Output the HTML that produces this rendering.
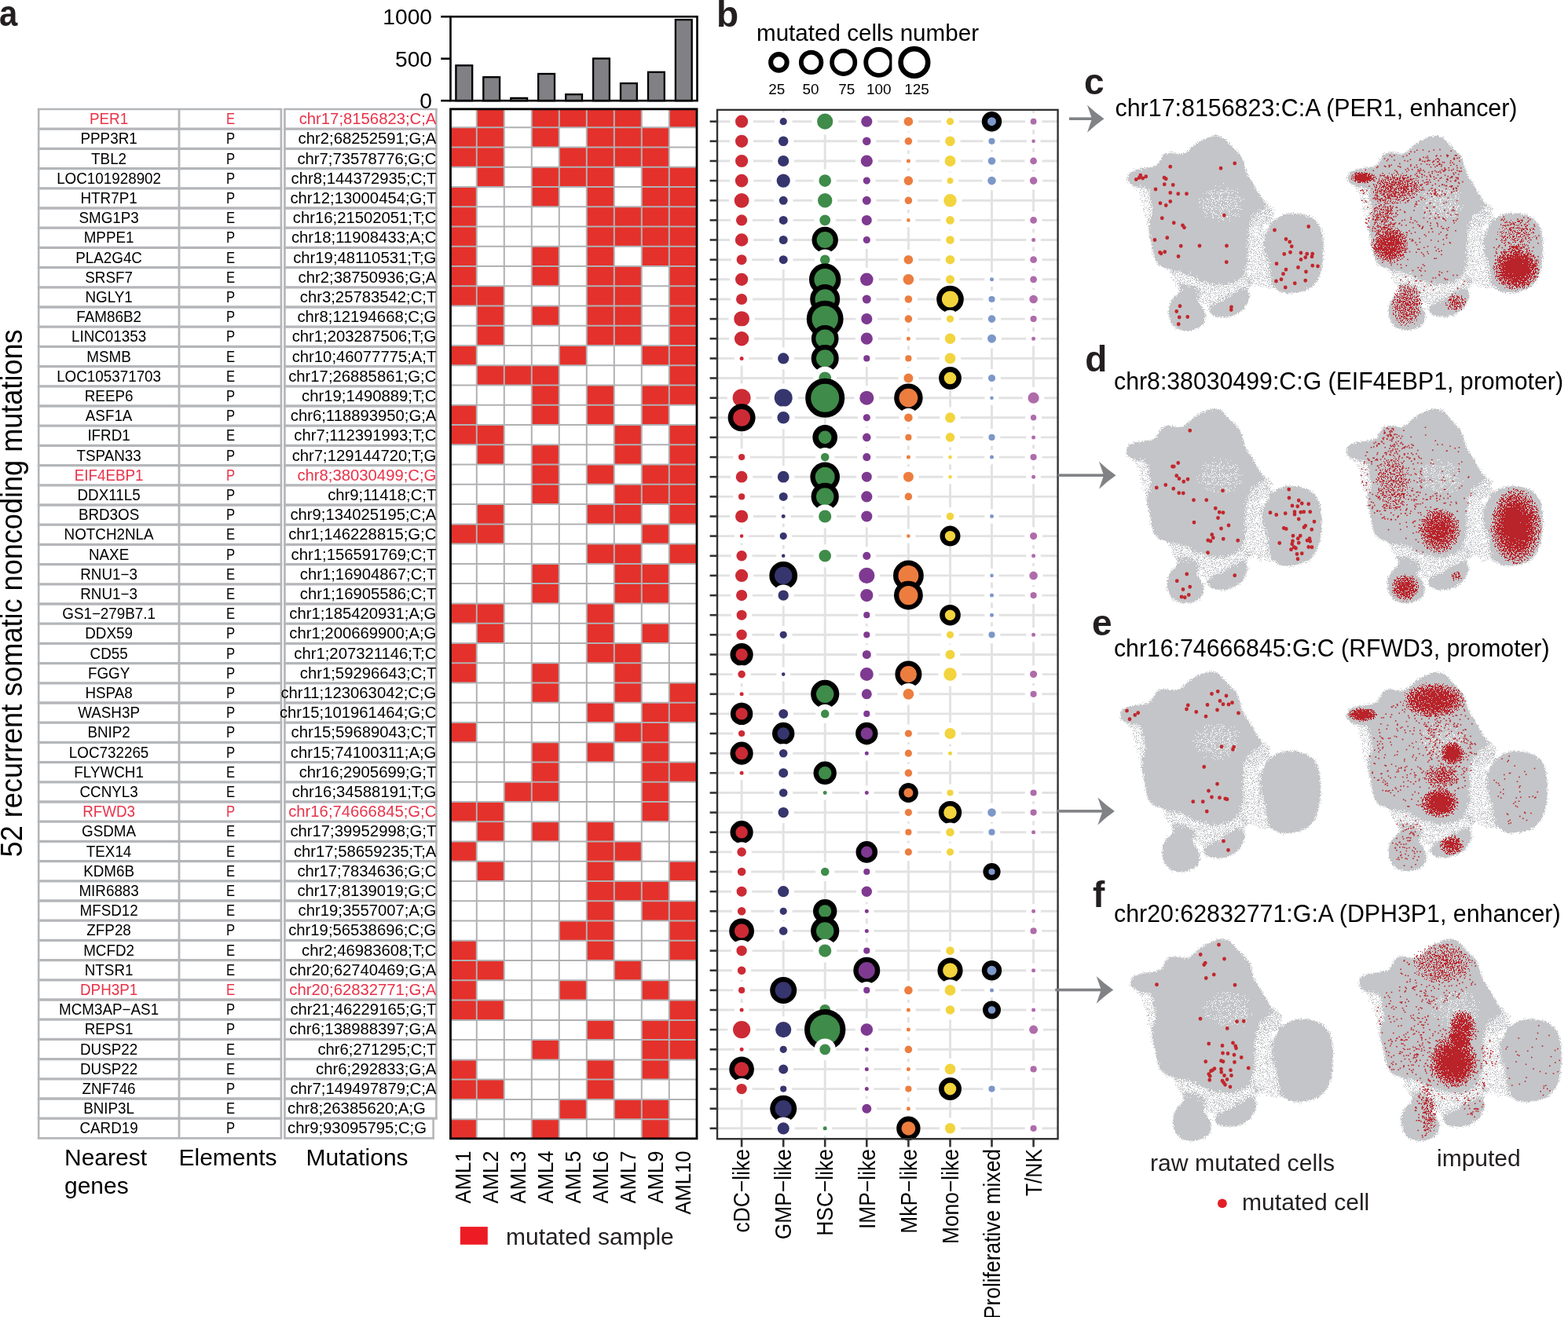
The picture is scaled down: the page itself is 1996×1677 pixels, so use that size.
<!DOCTYPE html>
<html><head><meta charset="utf-8"><title>Figure</title>
<style>html,body{margin:0;padding:0;background:#fff;}svg{display:block;}</style></head>
<body><svg width="1996" height="1677" viewBox="0 0 1996 1677" font-family="'Liberation Sans', Arial, Helvetica, sans-serif">
<rect width="1996" height="1677" fill="#fff"/>
<g stroke="#B4B6B9" fill="none">
<line x1="47.8" y1="139.0" x2="359.2" y2="139.0" stroke-width="2.7"/>
<line x1="361.1" y1="139.0" x2="556.8" y2="139.0" stroke-width="2.7"/>
<line x1="47.8" y1="164.2" x2="359.2" y2="164.2" stroke-width="3.3"/>
<line x1="361.1" y1="164.2" x2="556.8" y2="164.2" stroke-width="3.3"/>
<line x1="47.8" y1="189.4" x2="359.2" y2="189.4" stroke-width="3.3"/>
<line x1="361.1" y1="189.4" x2="556.8" y2="189.4" stroke-width="3.3"/>
<line x1="47.8" y1="214.6" x2="359.2" y2="214.6" stroke-width="3.3"/>
<line x1="361.1" y1="214.6" x2="556.8" y2="214.6" stroke-width="3.3"/>
<line x1="47.8" y1="239.8" x2="359.2" y2="239.8" stroke-width="3.3"/>
<line x1="361.1" y1="239.8" x2="556.8" y2="239.8" stroke-width="3.3"/>
<line x1="47.8" y1="265.0" x2="359.2" y2="265.0" stroke-width="3.3"/>
<line x1="361.1" y1="265.0" x2="556.8" y2="265.0" stroke-width="3.3"/>
<line x1="47.8" y1="290.2" x2="359.2" y2="290.2" stroke-width="3.3"/>
<line x1="361.1" y1="290.2" x2="556.8" y2="290.2" stroke-width="3.3"/>
<line x1="47.8" y1="315.4" x2="359.2" y2="315.4" stroke-width="3.3"/>
<line x1="361.1" y1="315.4" x2="556.8" y2="315.4" stroke-width="3.3"/>
<line x1="47.8" y1="340.6" x2="359.2" y2="340.6" stroke-width="3.3"/>
<line x1="361.1" y1="340.6" x2="556.8" y2="340.6" stroke-width="3.3"/>
<line x1="47.8" y1="365.8" x2="359.2" y2="365.8" stroke-width="3.3"/>
<line x1="361.1" y1="365.8" x2="556.8" y2="365.8" stroke-width="3.3"/>
<line x1="47.8" y1="391.0" x2="359.2" y2="391.0" stroke-width="3.3"/>
<line x1="361.1" y1="391.0" x2="556.8" y2="391.0" stroke-width="3.3"/>
<line x1="47.8" y1="416.2" x2="359.2" y2="416.2" stroke-width="3.3"/>
<line x1="361.1" y1="416.2" x2="556.8" y2="416.2" stroke-width="3.3"/>
<line x1="47.8" y1="441.4" x2="359.2" y2="441.4" stroke-width="3.3"/>
<line x1="361.1" y1="441.4" x2="556.8" y2="441.4" stroke-width="3.3"/>
<line x1="47.8" y1="466.6" x2="359.2" y2="466.6" stroke-width="3.3"/>
<line x1="361.1" y1="466.6" x2="556.8" y2="466.6" stroke-width="3.3"/>
<line x1="47.8" y1="491.8" x2="359.2" y2="491.8" stroke-width="3.3"/>
<line x1="361.1" y1="491.8" x2="556.8" y2="491.8" stroke-width="3.3"/>
<line x1="47.8" y1="517.0" x2="359.2" y2="517.0" stroke-width="3.3"/>
<line x1="361.1" y1="517.0" x2="556.8" y2="517.0" stroke-width="3.3"/>
<line x1="47.8" y1="542.2" x2="359.2" y2="542.2" stroke-width="3.3"/>
<line x1="361.1" y1="542.2" x2="556.8" y2="542.2" stroke-width="3.3"/>
<line x1="47.8" y1="567.4" x2="359.2" y2="567.4" stroke-width="3.3"/>
<line x1="361.1" y1="567.4" x2="556.8" y2="567.4" stroke-width="3.3"/>
<line x1="47.8" y1="592.6" x2="359.2" y2="592.6" stroke-width="3.3"/>
<line x1="361.1" y1="592.6" x2="556.8" y2="592.6" stroke-width="3.3"/>
<line x1="47.8" y1="617.8" x2="359.2" y2="617.8" stroke-width="3.3"/>
<line x1="361.1" y1="617.8" x2="556.8" y2="617.8" stroke-width="3.3"/>
<line x1="47.8" y1="643.0" x2="359.2" y2="643.0" stroke-width="3.3"/>
<line x1="361.1" y1="643.0" x2="556.8" y2="643.0" stroke-width="3.3"/>
<line x1="47.8" y1="668.2" x2="359.2" y2="668.2" stroke-width="3.3"/>
<line x1="361.1" y1="668.2" x2="556.8" y2="668.2" stroke-width="3.3"/>
<line x1="47.8" y1="693.4" x2="359.2" y2="693.4" stroke-width="3.3"/>
<line x1="361.1" y1="693.4" x2="556.8" y2="693.4" stroke-width="3.3"/>
<line x1="47.8" y1="718.6" x2="359.2" y2="718.6" stroke-width="3.3"/>
<line x1="361.1" y1="718.6" x2="556.8" y2="718.6" stroke-width="3.3"/>
<line x1="47.8" y1="743.8" x2="359.2" y2="743.8" stroke-width="3.3"/>
<line x1="361.1" y1="743.8" x2="556.8" y2="743.8" stroke-width="3.3"/>
<line x1="47.8" y1="769.0" x2="359.2" y2="769.0" stroke-width="3.3"/>
<line x1="361.1" y1="769.0" x2="556.8" y2="769.0" stroke-width="3.3"/>
<line x1="47.8" y1="794.2" x2="359.2" y2="794.2" stroke-width="3.3"/>
<line x1="361.1" y1="794.2" x2="556.8" y2="794.2" stroke-width="3.3"/>
<line x1="47.8" y1="819.4" x2="359.2" y2="819.4" stroke-width="3.3"/>
<line x1="361.1" y1="819.4" x2="556.8" y2="819.4" stroke-width="3.3"/>
<line x1="47.8" y1="844.6" x2="359.2" y2="844.6" stroke-width="3.3"/>
<line x1="361.1" y1="844.6" x2="556.8" y2="844.6" stroke-width="3.3"/>
<line x1="47.8" y1="869.8" x2="359.2" y2="869.8" stroke-width="3.3"/>
<line x1="361.1" y1="869.8" x2="556.8" y2="869.8" stroke-width="3.3"/>
<line x1="47.8" y1="895.0" x2="359.2" y2="895.0" stroke-width="3.3"/>
<line x1="361.1" y1="895.0" x2="556.8" y2="895.0" stroke-width="3.3"/>
<line x1="47.8" y1="920.2" x2="359.2" y2="920.2" stroke-width="3.3"/>
<line x1="361.1" y1="920.2" x2="556.8" y2="920.2" stroke-width="3.3"/>
<line x1="47.8" y1="945.4" x2="359.2" y2="945.4" stroke-width="3.3"/>
<line x1="361.1" y1="945.4" x2="556.8" y2="945.4" stroke-width="3.3"/>
<line x1="47.8" y1="970.6" x2="359.2" y2="970.6" stroke-width="3.3"/>
<line x1="361.1" y1="970.6" x2="556.8" y2="970.6" stroke-width="3.3"/>
<line x1="47.8" y1="995.8" x2="359.2" y2="995.8" stroke-width="3.3"/>
<line x1="361.1" y1="995.8" x2="556.8" y2="995.8" stroke-width="3.3"/>
<line x1="47.8" y1="1021.0" x2="359.2" y2="1021.0" stroke-width="3.3"/>
<line x1="361.1" y1="1021.0" x2="556.8" y2="1021.0" stroke-width="3.3"/>
<line x1="47.8" y1="1046.2" x2="359.2" y2="1046.2" stroke-width="3.3"/>
<line x1="361.1" y1="1046.2" x2="556.8" y2="1046.2" stroke-width="3.3"/>
<line x1="47.8" y1="1071.4" x2="359.2" y2="1071.4" stroke-width="3.3"/>
<line x1="361.1" y1="1071.4" x2="556.8" y2="1071.4" stroke-width="3.3"/>
<line x1="47.8" y1="1096.6" x2="359.2" y2="1096.6" stroke-width="3.3"/>
<line x1="361.1" y1="1096.6" x2="556.8" y2="1096.6" stroke-width="3.3"/>
<line x1="47.8" y1="1121.8" x2="359.2" y2="1121.8" stroke-width="3.3"/>
<line x1="361.1" y1="1121.8" x2="556.8" y2="1121.8" stroke-width="3.3"/>
<line x1="47.8" y1="1147.0" x2="359.2" y2="1147.0" stroke-width="3.3"/>
<line x1="361.1" y1="1147.0" x2="556.8" y2="1147.0" stroke-width="3.3"/>
<line x1="47.8" y1="1172.2" x2="359.2" y2="1172.2" stroke-width="3.3"/>
<line x1="361.1" y1="1172.2" x2="556.8" y2="1172.2" stroke-width="3.3"/>
<line x1="47.8" y1="1197.4" x2="359.2" y2="1197.4" stroke-width="3.3"/>
<line x1="361.1" y1="1197.4" x2="556.8" y2="1197.4" stroke-width="3.3"/>
<line x1="47.8" y1="1222.6" x2="359.2" y2="1222.6" stroke-width="3.3"/>
<line x1="361.1" y1="1222.6" x2="556.8" y2="1222.6" stroke-width="3.3"/>
<line x1="47.8" y1="1247.8" x2="359.2" y2="1247.8" stroke-width="3.3"/>
<line x1="361.1" y1="1247.8" x2="556.8" y2="1247.8" stroke-width="3.3"/>
<line x1="47.8" y1="1273.0" x2="359.2" y2="1273.0" stroke-width="3.3"/>
<line x1="361.1" y1="1273.0" x2="556.8" y2="1273.0" stroke-width="3.3"/>
<line x1="47.8" y1="1298.2" x2="359.2" y2="1298.2" stroke-width="3.3"/>
<line x1="361.1" y1="1298.2" x2="556.8" y2="1298.2" stroke-width="3.3"/>
<line x1="47.8" y1="1323.4" x2="359.2" y2="1323.4" stroke-width="3.3"/>
<line x1="361.1" y1="1323.4" x2="556.8" y2="1323.4" stroke-width="3.3"/>
<line x1="47.8" y1="1348.6" x2="359.2" y2="1348.6" stroke-width="3.3"/>
<line x1="361.1" y1="1348.6" x2="556.8" y2="1348.6" stroke-width="3.3"/>
<line x1="47.8" y1="1373.8" x2="359.2" y2="1373.8" stroke-width="3.3"/>
<line x1="361.1" y1="1373.8" x2="556.8" y2="1373.8" stroke-width="3.3"/>
<line x1="47.8" y1="1399.0" x2="359.2" y2="1399.0" stroke-width="3.3"/>
<line x1="361.1" y1="1399.0" x2="556.8" y2="1399.0" stroke-width="3.3"/>
<line x1="47.8" y1="1424.2" x2="359.2" y2="1424.2" stroke-width="3.3"/>
<line x1="361.1" y1="1424.2" x2="556.8" y2="1424.2" stroke-width="3.3"/>
<line x1="47.8" y1="1449.4" x2="359.2" y2="1449.4" stroke-width="2.7"/>
<line x1="361.1" y1="1449.4" x2="553.0" y2="1449.4" stroke-width="2.7"/>
<line x1="49.2" y1="139.0" x2="49.2" y2="1449.4" stroke-width="2.6"/>
<line x1="228.0" y1="139.0" x2="228.0" y2="1449.4" stroke-width="2.8"/>
<line x1="357.9" y1="139.0" x2="357.9" y2="1449.4" stroke-width="2.7"/>
<line x1="362.4" y1="139.0" x2="362.4" y2="1449.4" stroke-width="2.7"/>
<line x1="555.4" y1="139.0" x2="555.4" y2="1424.2" stroke-width="2.6"/>
<line x1="551.6" y1="1424.2" x2="551.6" y2="1449.4" stroke-width="2.6"/>
</g>
<text x="138.6" y="158.1" font-size="19.5" text-anchor="middle" fill="#E8334A" textLength="49.2" lengthAdjust="spacingAndGlyphs">PER1</text>
<text x="293.6" y="158.1" font-size="19.5" text-anchor="middle" fill="#E8334A" textLength="11.1" lengthAdjust="spacingAndGlyphs">E</text>
<text x="555.4" y="158.1" font-size="19.5" text-anchor="end" fill="#E8334A" textLength="174.7" lengthAdjust="spacingAndGlyphs">chr17;8156823;C;A</text>
<text x="138.6" y="183.3" font-size="19.5" text-anchor="middle" textLength="72.2" lengthAdjust="spacingAndGlyphs">PPP3R1</text>
<text x="293.6" y="183.3" font-size="19.5" text-anchor="middle" textLength="11.1" lengthAdjust="spacingAndGlyphs">P</text>
<text x="555.4" y="183.3" font-size="19.5" text-anchor="end" textLength="175.8" lengthAdjust="spacingAndGlyphs">chr2;68252591;G;A</text>
<text x="138.6" y="208.5" font-size="19.5" text-anchor="middle" textLength="45.0" lengthAdjust="spacingAndGlyphs">TBL2</text>
<text x="293.6" y="208.5" font-size="19.5" text-anchor="middle" textLength="11.1" lengthAdjust="spacingAndGlyphs">P</text>
<text x="555.4" y="208.5" font-size="19.5" text-anchor="end" textLength="177.0" lengthAdjust="spacingAndGlyphs">chr7;73578776;G;C</text>
<text x="138.6" y="233.7" font-size="19.5" text-anchor="middle" textLength="132.9" lengthAdjust="spacingAndGlyphs">LOC101928902</text>
<text x="293.6" y="233.7" font-size="19.5" text-anchor="middle" textLength="11.1" lengthAdjust="spacingAndGlyphs">P</text>
<text x="555.4" y="233.7" font-size="19.5" text-anchor="end" textLength="184.8" lengthAdjust="spacingAndGlyphs">chr8;144372935;C;T</text>
<text x="138.6" y="258.9" font-size="19.5" text-anchor="middle" textLength="72.2" lengthAdjust="spacingAndGlyphs">HTR7P1</text>
<text x="293.6" y="258.9" font-size="19.5" text-anchor="middle" textLength="11.1" lengthAdjust="spacingAndGlyphs">P</text>
<text x="555.4" y="258.9" font-size="19.5" text-anchor="end" textLength="186.0" lengthAdjust="spacingAndGlyphs">chr12;13000454;G;T</text>
<text x="138.6" y="284.1" font-size="19.5" text-anchor="middle" textLength="76.3" lengthAdjust="spacingAndGlyphs">SMG1P3</text>
<text x="293.6" y="284.1" font-size="19.5" text-anchor="middle" textLength="11.1" lengthAdjust="spacingAndGlyphs">E</text>
<text x="555.4" y="284.1" font-size="19.5" text-anchor="end" textLength="182.6" lengthAdjust="spacingAndGlyphs">chr16;21502051;T;C</text>
<text x="138.6" y="309.3" font-size="19.5" text-anchor="middle" textLength="63.8" lengthAdjust="spacingAndGlyphs">MPPE1</text>
<text x="293.6" y="309.3" font-size="19.5" text-anchor="middle" textLength="11.1" lengthAdjust="spacingAndGlyphs">P</text>
<text x="555.4" y="309.3" font-size="19.5" text-anchor="end" textLength="184.5" lengthAdjust="spacingAndGlyphs">chr18;11908433;A;C</text>
<text x="138.6" y="334.5" font-size="19.5" text-anchor="middle" textLength="84.7" lengthAdjust="spacingAndGlyphs">PLA2G4C</text>
<text x="293.6" y="334.5" font-size="19.5" text-anchor="middle" textLength="11.1" lengthAdjust="spacingAndGlyphs">E</text>
<text x="555.4" y="334.5" font-size="19.5" text-anchor="end" textLength="182.2" lengthAdjust="spacingAndGlyphs">chr19;48110531;T;G</text>
<text x="138.6" y="359.7" font-size="19.5" text-anchor="middle" textLength="60.7" lengthAdjust="spacingAndGlyphs">SRSF7</text>
<text x="293.6" y="359.7" font-size="19.5" text-anchor="middle" textLength="11.1" lengthAdjust="spacingAndGlyphs">E</text>
<text x="555.4" y="359.7" font-size="19.5" text-anchor="end" textLength="175.8" lengthAdjust="spacingAndGlyphs">chr2;38750936;G;A</text>
<text x="138.6" y="384.9" font-size="19.5" text-anchor="middle" textLength="60.3" lengthAdjust="spacingAndGlyphs">NGLY1</text>
<text x="293.6" y="384.9" font-size="19.5" text-anchor="middle" textLength="11.1" lengthAdjust="spacingAndGlyphs">P</text>
<text x="555.4" y="384.9" font-size="19.5" text-anchor="end" textLength="173.6" lengthAdjust="spacingAndGlyphs">chr3;25783542;C;T</text>
<text x="138.6" y="410.1" font-size="19.5" text-anchor="middle" textLength="82.6" lengthAdjust="spacingAndGlyphs">FAM86B2</text>
<text x="293.6" y="410.1" font-size="19.5" text-anchor="middle" textLength="11.1" lengthAdjust="spacingAndGlyphs">P</text>
<text x="555.4" y="410.1" font-size="19.5" text-anchor="end" textLength="177.0" lengthAdjust="spacingAndGlyphs">chr8;12194668;C;G</text>
<text x="138.6" y="435.3" font-size="19.5" text-anchor="middle" textLength="95.2" lengthAdjust="spacingAndGlyphs">LINC01353</text>
<text x="293.6" y="435.3" font-size="19.5" text-anchor="middle" textLength="11.1" lengthAdjust="spacingAndGlyphs">P</text>
<text x="555.4" y="435.3" font-size="19.5" text-anchor="end" textLength="183.7" lengthAdjust="spacingAndGlyphs">chr1;203287506;T;G</text>
<text x="138.6" y="460.5" font-size="19.5" text-anchor="middle" textLength="56.5" lengthAdjust="spacingAndGlyphs">MSMB</text>
<text x="293.6" y="460.5" font-size="19.5" text-anchor="middle" textLength="11.1" lengthAdjust="spacingAndGlyphs">E</text>
<text x="555.4" y="460.5" font-size="19.5" text-anchor="end" textLength="183.7" lengthAdjust="spacingAndGlyphs">chr10;46077775;A;T</text>
<text x="138.6" y="485.7" font-size="19.5" text-anchor="middle" textLength="132.9" lengthAdjust="spacingAndGlyphs">LOC105371703</text>
<text x="293.6" y="485.7" font-size="19.5" text-anchor="middle" textLength="11.1" lengthAdjust="spacingAndGlyphs">E</text>
<text x="555.4" y="485.7" font-size="19.5" text-anchor="end" textLength="188.2" lengthAdjust="spacingAndGlyphs">chr17;26885861;G;C</text>
<text x="138.6" y="510.9" font-size="19.5" text-anchor="middle" textLength="61.7" lengthAdjust="spacingAndGlyphs">REEP6</text>
<text x="293.6" y="510.9" font-size="19.5" text-anchor="middle" textLength="11.1" lengthAdjust="spacingAndGlyphs">P</text>
<text x="555.4" y="510.9" font-size="19.5" text-anchor="end" textLength="171.3" lengthAdjust="spacingAndGlyphs">chr19;1490889;T;C</text>
<text x="138.6" y="536.1" font-size="19.5" text-anchor="middle" textLength="59.6" lengthAdjust="spacingAndGlyphs">ASF1A</text>
<text x="293.6" y="536.1" font-size="19.5" text-anchor="middle" textLength="11.1" lengthAdjust="spacingAndGlyphs">P</text>
<text x="555.4" y="536.1" font-size="19.5" text-anchor="end" textLength="185.6" lengthAdjust="spacingAndGlyphs">chr6;118893950;G;A</text>
<text x="138.6" y="561.3" font-size="19.5" text-anchor="middle" textLength="54.4" lengthAdjust="spacingAndGlyphs">IFRD1</text>
<text x="293.6" y="561.3" font-size="19.5" text-anchor="middle" textLength="11.1" lengthAdjust="spacingAndGlyphs">E</text>
<text x="555.4" y="561.3" font-size="19.5" text-anchor="end" textLength="181.1" lengthAdjust="spacingAndGlyphs">chr7;112391993;T;C</text>
<text x="138.6" y="586.5" font-size="19.5" text-anchor="middle" textLength="82.3" lengthAdjust="spacingAndGlyphs">TSPAN33</text>
<text x="293.6" y="586.5" font-size="19.5" text-anchor="middle" textLength="11.1" lengthAdjust="spacingAndGlyphs">P</text>
<text x="555.4" y="586.5" font-size="19.5" text-anchor="end" textLength="183.7" lengthAdjust="spacingAndGlyphs">chr7;129144720;T;G</text>
<text x="138.6" y="611.7" font-size="19.5" text-anchor="middle" fill="#E8334A" textLength="87.9" lengthAdjust="spacingAndGlyphs">EIF4EBP1</text>
<text x="293.6" y="611.7" font-size="19.5" text-anchor="middle" fill="#E8334A" textLength="11.1" lengthAdjust="spacingAndGlyphs">P</text>
<text x="555.4" y="611.7" font-size="19.5" text-anchor="end" fill="#E8334A" textLength="177.0" lengthAdjust="spacingAndGlyphs">chr8;38030499;C;G</text>
<text x="138.6" y="636.9" font-size="19.5" text-anchor="middle" textLength="80.2" lengthAdjust="spacingAndGlyphs">DDX11L5</text>
<text x="293.6" y="636.9" font-size="19.5" text-anchor="middle" textLength="11.1" lengthAdjust="spacingAndGlyphs">P</text>
<text x="555.4" y="636.9" font-size="19.5" text-anchor="end" textLength="138.2" lengthAdjust="spacingAndGlyphs">chr9;11418;C;T</text>
<text x="138.6" y="662.1" font-size="19.5" text-anchor="middle" textLength="77.4" lengthAdjust="spacingAndGlyphs">BRD3OS</text>
<text x="293.6" y="662.1" font-size="19.5" text-anchor="middle" textLength="11.1" lengthAdjust="spacingAndGlyphs">P</text>
<text x="555.4" y="662.1" font-size="19.5" text-anchor="end" textLength="186.0" lengthAdjust="spacingAndGlyphs">chr9;134025195;C;A</text>
<text x="138.6" y="687.3" font-size="19.5" text-anchor="middle" textLength="114.0" lengthAdjust="spacingAndGlyphs">NOTCH2NLA</text>
<text x="293.6" y="687.3" font-size="19.5" text-anchor="middle" textLength="11.1" lengthAdjust="spacingAndGlyphs">E</text>
<text x="555.4" y="687.3" font-size="19.5" text-anchor="end" textLength="188.2" lengthAdjust="spacingAndGlyphs">chr1;146228815;G;C</text>
<text x="138.6" y="712.5" font-size="19.5" text-anchor="middle" textLength="51.2" lengthAdjust="spacingAndGlyphs">NAXE</text>
<text x="293.6" y="712.5" font-size="19.5" text-anchor="middle" textLength="11.1" lengthAdjust="spacingAndGlyphs">P</text>
<text x="555.4" y="712.5" font-size="19.5" text-anchor="end" textLength="184.8" lengthAdjust="spacingAndGlyphs">chr1;156591769;C;T</text>
<text x="138.6" y="737.7" font-size="19.5" text-anchor="middle" textLength="72.7" lengthAdjust="spacingAndGlyphs">RNU1−3</text>
<text x="293.6" y="737.7" font-size="19.5" text-anchor="middle" textLength="11.1" lengthAdjust="spacingAndGlyphs">E</text>
<text x="555.4" y="737.7" font-size="19.5" text-anchor="end" textLength="173.6" lengthAdjust="spacingAndGlyphs">chr1;16904867;C;T</text>
<text x="138.6" y="762.9" font-size="19.5" text-anchor="middle" textLength="72.7" lengthAdjust="spacingAndGlyphs">RNU1−3</text>
<text x="293.6" y="762.9" font-size="19.5" text-anchor="middle" textLength="11.1" lengthAdjust="spacingAndGlyphs">E</text>
<text x="555.4" y="762.9" font-size="19.5" text-anchor="end" textLength="173.6" lengthAdjust="spacingAndGlyphs">chr1;16905586;C;T</text>
<text x="138.6" y="788.1" font-size="19.5" text-anchor="middle" textLength="118.7" lengthAdjust="spacingAndGlyphs">GS1−279B7.1</text>
<text x="293.6" y="788.1" font-size="19.5" text-anchor="middle" textLength="11.1" lengthAdjust="spacingAndGlyphs">E</text>
<text x="555.4" y="788.1" font-size="19.5" text-anchor="end" textLength="187.1" lengthAdjust="spacingAndGlyphs">chr1;185420931;A;G</text>
<text x="138.6" y="813.3" font-size="19.5" text-anchor="middle" textLength="60.7" lengthAdjust="spacingAndGlyphs">DDX59</text>
<text x="293.6" y="813.3" font-size="19.5" text-anchor="middle" textLength="11.1" lengthAdjust="spacingAndGlyphs">P</text>
<text x="555.4" y="813.3" font-size="19.5" text-anchor="end" textLength="187.1" lengthAdjust="spacingAndGlyphs">chr1;200669900;A;G</text>
<text x="138.6" y="838.5" font-size="19.5" text-anchor="middle" textLength="48.1" lengthAdjust="spacingAndGlyphs">CD55</text>
<text x="293.6" y="838.5" font-size="19.5" text-anchor="middle" textLength="11.1" lengthAdjust="spacingAndGlyphs">P</text>
<text x="555.4" y="838.5" font-size="19.5" text-anchor="end" textLength="181.1" lengthAdjust="spacingAndGlyphs">chr1;207321146;T;C</text>
<text x="138.6" y="863.7" font-size="19.5" text-anchor="middle" textLength="53.3" lengthAdjust="spacingAndGlyphs">FGGY</text>
<text x="293.6" y="863.7" font-size="19.5" text-anchor="middle" textLength="11.1" lengthAdjust="spacingAndGlyphs">P</text>
<text x="555.4" y="863.7" font-size="19.5" text-anchor="end" textLength="173.6" lengthAdjust="spacingAndGlyphs">chr1;59296643;C;T</text>
<text x="138.6" y="888.9" font-size="19.5" text-anchor="middle" textLength="60.3" lengthAdjust="spacingAndGlyphs">HSPA8</text>
<text x="293.6" y="888.9" font-size="19.5" text-anchor="middle" textLength="11.1" lengthAdjust="spacingAndGlyphs">P</text>
<text x="555.4" y="888.9" font-size="19.5" text-anchor="end" textLength="198.0" lengthAdjust="spacingAndGlyphs">chr11;123063042;C;G</text>
<text x="138.6" y="914.1" font-size="19.5" text-anchor="middle" textLength="78.8" lengthAdjust="spacingAndGlyphs">WASH3P</text>
<text x="293.6" y="914.1" font-size="19.5" text-anchor="middle" textLength="11.1" lengthAdjust="spacingAndGlyphs">P</text>
<text x="555.4" y="914.1" font-size="19.5" text-anchor="end" textLength="199.5" lengthAdjust="spacingAndGlyphs">chr15;101961464;G;C</text>
<text x="138.6" y="939.3" font-size="19.5" text-anchor="middle" textLength="54.4" lengthAdjust="spacingAndGlyphs">BNIP2</text>
<text x="293.6" y="939.3" font-size="19.5" text-anchor="middle" textLength="11.1" lengthAdjust="spacingAndGlyphs">P</text>
<text x="555.4" y="939.3" font-size="19.5" text-anchor="end" textLength="184.8" lengthAdjust="spacingAndGlyphs">chr15;59689043;C;T</text>
<text x="138.6" y="964.5" font-size="19.5" text-anchor="middle" textLength="101.5" lengthAdjust="spacingAndGlyphs">LOC732265</text>
<text x="293.6" y="964.5" font-size="19.5" text-anchor="middle" textLength="11.1" lengthAdjust="spacingAndGlyphs">P</text>
<text x="555.4" y="964.5" font-size="19.5" text-anchor="end" textLength="185.6" lengthAdjust="spacingAndGlyphs">chr15;74100311;A;G</text>
<text x="138.6" y="989.7" font-size="19.5" text-anchor="middle" textLength="88.5" lengthAdjust="spacingAndGlyphs">FLYWCH1</text>
<text x="293.6" y="989.7" font-size="19.5" text-anchor="middle" textLength="11.1" lengthAdjust="spacingAndGlyphs">E</text>
<text x="555.4" y="989.7" font-size="19.5" text-anchor="end" textLength="174.7" lengthAdjust="spacingAndGlyphs">chr16;2905699;G;T</text>
<text x="138.6" y="1014.9" font-size="19.5" text-anchor="middle" textLength="74.3" lengthAdjust="spacingAndGlyphs">CCNYL3</text>
<text x="293.6" y="1014.9" font-size="19.5" text-anchor="middle" textLength="11.1" lengthAdjust="spacingAndGlyphs">E</text>
<text x="555.4" y="1014.9" font-size="19.5" text-anchor="end" textLength="183.7" lengthAdjust="spacingAndGlyphs">chr16;34588191;T;G</text>
<text x="138.6" y="1040.1" font-size="19.5" text-anchor="middle" fill="#E8334A" textLength="66.9" lengthAdjust="spacingAndGlyphs">RFWD3</text>
<text x="293.6" y="1040.1" font-size="19.5" text-anchor="middle" fill="#E8334A" textLength="11.1" lengthAdjust="spacingAndGlyphs">P</text>
<text x="555.4" y="1040.1" font-size="19.5" text-anchor="end" fill="#E8334A" textLength="188.2" lengthAdjust="spacingAndGlyphs">chr16;74666845;G;C</text>
<text x="138.6" y="1065.3" font-size="19.5" text-anchor="middle" textLength="69.0" lengthAdjust="spacingAndGlyphs">GSDMA</text>
<text x="293.6" y="1065.3" font-size="19.5" text-anchor="middle" textLength="11.1" lengthAdjust="spacingAndGlyphs">E</text>
<text x="555.4" y="1065.3" font-size="19.5" text-anchor="end" textLength="186.0" lengthAdjust="spacingAndGlyphs">chr17;39952998;G;T</text>
<text x="138.6" y="1090.5" font-size="19.5" text-anchor="middle" textLength="57.5" lengthAdjust="spacingAndGlyphs">TEX14</text>
<text x="293.6" y="1090.5" font-size="19.5" text-anchor="middle" textLength="11.1" lengthAdjust="spacingAndGlyphs">E</text>
<text x="555.4" y="1090.5" font-size="19.5" text-anchor="end" textLength="181.5" lengthAdjust="spacingAndGlyphs">chr17;58659235;T;A</text>
<text x="138.6" y="1115.7" font-size="19.5" text-anchor="middle" textLength="64.8" lengthAdjust="spacingAndGlyphs">KDM6B</text>
<text x="293.6" y="1115.7" font-size="19.5" text-anchor="middle" textLength="11.1" lengthAdjust="spacingAndGlyphs">E</text>
<text x="555.4" y="1115.7" font-size="19.5" text-anchor="end" textLength="177.0" lengthAdjust="spacingAndGlyphs">chr17;7834636;G;C</text>
<text x="138.6" y="1140.9" font-size="19.5" text-anchor="middle" textLength="76.4" lengthAdjust="spacingAndGlyphs">MIR6883</text>
<text x="293.6" y="1140.9" font-size="19.5" text-anchor="middle" textLength="11.1" lengthAdjust="spacingAndGlyphs">E</text>
<text x="555.4" y="1140.9" font-size="19.5" text-anchor="end" textLength="177.0" lengthAdjust="spacingAndGlyphs">chr17;8139019;G;C</text>
<text x="138.6" y="1166.1" font-size="19.5" text-anchor="middle" textLength="74.2" lengthAdjust="spacingAndGlyphs">MFSD12</text>
<text x="293.6" y="1166.1" font-size="19.5" text-anchor="middle" textLength="11.1" lengthAdjust="spacingAndGlyphs">E</text>
<text x="555.4" y="1166.1" font-size="19.5" text-anchor="end" textLength="175.8" lengthAdjust="spacingAndGlyphs">chr19;3557007;A;G</text>
<text x="138.6" y="1191.3" font-size="19.5" text-anchor="middle" textLength="56.5" lengthAdjust="spacingAndGlyphs">ZFP28</text>
<text x="293.6" y="1191.3" font-size="19.5" text-anchor="middle" textLength="11.1" lengthAdjust="spacingAndGlyphs">P</text>
<text x="555.4" y="1191.3" font-size="19.5" text-anchor="end" textLength="188.2" lengthAdjust="spacingAndGlyphs">chr19;56538696;C;G</text>
<text x="138.6" y="1216.5" font-size="19.5" text-anchor="middle" textLength="64.8" lengthAdjust="spacingAndGlyphs">MCFD2</text>
<text x="293.6" y="1216.5" font-size="19.5" text-anchor="middle" textLength="11.1" lengthAdjust="spacingAndGlyphs">E</text>
<text x="555.4" y="1216.5" font-size="19.5" text-anchor="end" textLength="171.3" lengthAdjust="spacingAndGlyphs">chr2;46983608;T;C</text>
<text x="138.6" y="1241.7" font-size="19.5" text-anchor="middle" textLength="61.7" lengthAdjust="spacingAndGlyphs">NTSR1</text>
<text x="293.6" y="1241.7" font-size="19.5" text-anchor="middle" textLength="11.1" lengthAdjust="spacingAndGlyphs">E</text>
<text x="555.4" y="1241.7" font-size="19.5" text-anchor="end" textLength="187.1" lengthAdjust="spacingAndGlyphs">chr20;62740469;G;A</text>
<text x="138.6" y="1266.9" font-size="19.5" text-anchor="middle" fill="#E8334A" textLength="73.2" lengthAdjust="spacingAndGlyphs">DPH3P1</text>
<text x="293.6" y="1266.9" font-size="19.5" text-anchor="middle" fill="#E8334A" textLength="11.1" lengthAdjust="spacingAndGlyphs">E</text>
<text x="555.4" y="1266.9" font-size="19.5" text-anchor="end" fill="#E8334A" textLength="187.1" lengthAdjust="spacingAndGlyphs">chr20;62832771;G;A</text>
<text x="138.6" y="1292.1" font-size="19.5" text-anchor="middle" textLength="127.1" lengthAdjust="spacingAndGlyphs">MCM3AP−AS1</text>
<text x="293.6" y="1292.1" font-size="19.5" text-anchor="middle" textLength="11.1" lengthAdjust="spacingAndGlyphs">P</text>
<text x="555.4" y="1292.1" font-size="19.5" text-anchor="end" textLength="186.0" lengthAdjust="spacingAndGlyphs">chr21;46229165;G;T</text>
<text x="138.6" y="1317.3" font-size="19.5" text-anchor="middle" textLength="61.7" lengthAdjust="spacingAndGlyphs">REPS1</text>
<text x="293.6" y="1317.3" font-size="19.5" text-anchor="middle" textLength="11.1" lengthAdjust="spacingAndGlyphs">P</text>
<text x="555.4" y="1317.3" font-size="19.5" text-anchor="end" textLength="187.1" lengthAdjust="spacingAndGlyphs">chr6;138988397;G;A</text>
<text x="138.6" y="1342.5" font-size="19.5" text-anchor="middle" textLength="73.2" lengthAdjust="spacingAndGlyphs">DUSP22</text>
<text x="293.6" y="1342.5" font-size="19.5" text-anchor="middle" textLength="11.1" lengthAdjust="spacingAndGlyphs">E</text>
<text x="555.4" y="1342.5" font-size="19.5" text-anchor="end" textLength="151.0" lengthAdjust="spacingAndGlyphs">chr6;271295;C;T</text>
<text x="138.6" y="1367.7" font-size="19.5" text-anchor="middle" textLength="73.2" lengthAdjust="spacingAndGlyphs">DUSP22</text>
<text x="293.6" y="1367.7" font-size="19.5" text-anchor="middle" textLength="11.1" lengthAdjust="spacingAndGlyphs">E</text>
<text x="555.4" y="1367.7" font-size="19.5" text-anchor="end" textLength="153.3" lengthAdjust="spacingAndGlyphs">chr6;292833;G;A</text>
<text x="138.6" y="1392.9" font-size="19.5" text-anchor="middle" textLength="68.0" lengthAdjust="spacingAndGlyphs">ZNF746</text>
<text x="293.6" y="1392.9" font-size="19.5" text-anchor="middle" textLength="11.1" lengthAdjust="spacingAndGlyphs">P</text>
<text x="555.4" y="1392.9" font-size="19.5" text-anchor="end" textLength="186.0" lengthAdjust="spacingAndGlyphs">chr7;149497879;C;A</text>
<text x="138.6" y="1418.1" font-size="19.5" text-anchor="middle" textLength="64.9" lengthAdjust="spacingAndGlyphs">BNIP3L</text>
<text x="293.6" y="1418.1" font-size="19.5" text-anchor="middle" textLength="11.1" lengthAdjust="spacingAndGlyphs">E</text>
<text x="366.0" y="1418.1" font-size="19.5" textLength="175.8" lengthAdjust="spacingAndGlyphs">chr8;26385620;A;G</text>
<text x="138.6" y="1443.3" font-size="19.5" text-anchor="middle" textLength="74.3" lengthAdjust="spacingAndGlyphs">CARD19</text>
<text x="293.6" y="1443.3" font-size="19.5" text-anchor="middle" textLength="11.1" lengthAdjust="spacingAndGlyphs">P</text>
<text x="366.0" y="1443.3" font-size="19.5" textLength="177.0" lengthAdjust="spacingAndGlyphs">chr9;93095795;C;G</text>
<text x="82.0" y="1484.0" font-size="30">Nearest</text>
<text x="82.0" y="1520.0" font-size="30">genes</text>
<text x="227.5" y="1484.0" font-size="30">Elements</text>
<text x="389.5" y="1484.0" font-size="30">Mutations</text>
<text x="27.7" y="755.4" font-size="38" text-anchor="middle" textLength="672.0" lengthAdjust="spacingAndGlyphs" transform="rotate(-90 27.7 755.4)">52 recurrent somatic noncoding mutations</text>
<defs><clipPath id="hmc"><rect x="573.5" y="138.9" width="313.5" height="1310.9"/></clipPath></defs><g fill="#E4312B" clip-path="url(#hmc)">
<rect x="606.8" y="136.9" width="35.0" height="25.26"/>
<rect x="676.8" y="136.9" width="140.0" height="25.26"/>
<rect x="851.8" y="136.9" width="35.2" height="25.26"/>
<rect x="571.8" y="162.2" width="70.0" height="25.26"/>
<rect x="676.8" y="162.2" width="35.0" height="25.26"/>
<rect x="746.8" y="162.2" width="105.0" height="25.26"/>
<rect x="571.8" y="187.4" width="70.0" height="25.26"/>
<rect x="711.8" y="187.4" width="140.0" height="25.26"/>
<rect x="606.8" y="212.7" width="35.0" height="25.26"/>
<rect x="676.8" y="212.7" width="105.0" height="25.26"/>
<rect x="816.8" y="212.7" width="70.2" height="25.26"/>
<rect x="571.8" y="237.9" width="35.0" height="25.26"/>
<rect x="676.8" y="237.9" width="35.0" height="25.26"/>
<rect x="746.8" y="237.9" width="35.0" height="25.26"/>
<rect x="816.8" y="237.9" width="70.2" height="25.26"/>
<rect x="571.8" y="263.2" width="35.0" height="25.26"/>
<rect x="746.8" y="263.2" width="140.2" height="25.26"/>
<rect x="571.8" y="288.5" width="35.0" height="25.26"/>
<rect x="746.8" y="288.5" width="140.2" height="25.26"/>
<rect x="571.8" y="313.7" width="35.0" height="25.26"/>
<rect x="676.8" y="313.7" width="35.0" height="25.26"/>
<rect x="746.8" y="313.7" width="35.0" height="25.26"/>
<rect x="816.8" y="313.7" width="70.2" height="25.26"/>
<rect x="571.8" y="339.0" width="35.0" height="25.26"/>
<rect x="676.8" y="339.0" width="35.0" height="25.26"/>
<rect x="746.8" y="339.0" width="70.0" height="25.26"/>
<rect x="851.8" y="339.0" width="35.2" height="25.26"/>
<rect x="571.8" y="364.2" width="70.0" height="25.26"/>
<rect x="746.8" y="364.2" width="70.0" height="25.26"/>
<rect x="851.8" y="364.2" width="35.2" height="25.26"/>
<rect x="606.8" y="389.5" width="35.0" height="25.26"/>
<rect x="676.8" y="389.5" width="35.0" height="25.26"/>
<rect x="746.8" y="389.5" width="70.0" height="25.26"/>
<rect x="851.8" y="389.5" width="35.2" height="25.26"/>
<rect x="606.8" y="414.8" width="35.0" height="25.26"/>
<rect x="746.8" y="414.8" width="70.0" height="25.26"/>
<rect x="851.8" y="414.8" width="35.2" height="25.26"/>
<rect x="571.8" y="440.0" width="35.0" height="25.26"/>
<rect x="711.8" y="440.0" width="35.0" height="25.26"/>
<rect x="816.8" y="440.0" width="70.2" height="25.26"/>
<rect x="606.8" y="465.3" width="105.0" height="25.26"/>
<rect x="851.8" y="465.3" width="35.2" height="25.26"/>
<rect x="676.8" y="490.5" width="35.0" height="25.26"/>
<rect x="746.8" y="490.5" width="35.0" height="25.26"/>
<rect x="816.8" y="490.5" width="70.2" height="25.26"/>
<rect x="571.8" y="515.8" width="35.0" height="25.26"/>
<rect x="676.8" y="515.8" width="35.0" height="25.26"/>
<rect x="746.8" y="515.8" width="35.0" height="25.26"/>
<rect x="816.8" y="515.8" width="35.0" height="25.26"/>
<rect x="571.8" y="541.1" width="70.0" height="25.26"/>
<rect x="781.8" y="541.1" width="35.0" height="25.26"/>
<rect x="851.8" y="541.1" width="35.2" height="25.26"/>
<rect x="606.8" y="566.3" width="35.0" height="25.26"/>
<rect x="676.8" y="566.3" width="35.0" height="25.26"/>
<rect x="781.8" y="566.3" width="35.0" height="25.26"/>
<rect x="851.8" y="566.3" width="35.2" height="25.26"/>
<rect x="676.8" y="591.6" width="35.0" height="25.26"/>
<rect x="746.8" y="591.6" width="35.0" height="25.26"/>
<rect x="816.8" y="591.6" width="70.2" height="25.26"/>
<rect x="676.8" y="616.8" width="35.0" height="25.26"/>
<rect x="781.8" y="616.8" width="105.2" height="25.26"/>
<rect x="606.8" y="642.1" width="35.0" height="25.26"/>
<rect x="746.8" y="642.1" width="70.0" height="25.26"/>
<rect x="851.8" y="642.1" width="35.2" height="25.26"/>
<rect x="571.8" y="667.4" width="70.0" height="25.26"/>
<rect x="816.8" y="667.4" width="35.0" height="25.26"/>
<rect x="746.8" y="692.6" width="70.0" height="25.26"/>
<rect x="851.8" y="692.6" width="35.2" height="25.26"/>
<rect x="676.8" y="717.9" width="35.0" height="25.26"/>
<rect x="781.8" y="717.9" width="70.0" height="25.26"/>
<rect x="676.8" y="743.1" width="35.0" height="25.26"/>
<rect x="781.8" y="743.1" width="70.0" height="25.26"/>
<rect x="571.8" y="768.4" width="70.0" height="25.26"/>
<rect x="746.8" y="768.4" width="35.0" height="25.26"/>
<rect x="606.8" y="793.7" width="35.0" height="25.26"/>
<rect x="746.8" y="793.7" width="35.0" height="25.26"/>
<rect x="816.8" y="793.7" width="35.0" height="25.26"/>
<rect x="571.8" y="818.9" width="35.0" height="25.26"/>
<rect x="746.8" y="818.9" width="70.0" height="25.26"/>
<rect x="571.8" y="844.2" width="35.0" height="25.26"/>
<rect x="676.8" y="844.2" width="35.0" height="25.26"/>
<rect x="781.8" y="844.2" width="35.0" height="25.26"/>
<rect x="676.8" y="869.4" width="35.0" height="25.26"/>
<rect x="781.8" y="869.4" width="35.0" height="25.26"/>
<rect x="851.8" y="869.4" width="35.2" height="25.26"/>
<rect x="746.8" y="894.7" width="35.0" height="25.26"/>
<rect x="816.8" y="894.7" width="70.2" height="25.26"/>
<rect x="571.8" y="920.0" width="35.0" height="25.26"/>
<rect x="781.8" y="920.0" width="70.0" height="25.26"/>
<rect x="676.8" y="945.2" width="35.0" height="25.26"/>
<rect x="746.8" y="945.2" width="35.0" height="25.26"/>
<rect x="816.8" y="945.2" width="35.0" height="25.26"/>
<rect x="676.8" y="970.5" width="35.0" height="25.26"/>
<rect x="816.8" y="970.5" width="70.2" height="25.26"/>
<rect x="641.8" y="995.7" width="70.0" height="25.26"/>
<rect x="816.8" y="995.7" width="35.0" height="25.26"/>
<rect x="571.8" y="1021.0" width="70.0" height="25.26"/>
<rect x="816.8" y="1021.0" width="35.0" height="25.26"/>
<rect x="606.8" y="1046.3" width="35.0" height="25.26"/>
<rect x="676.8" y="1046.3" width="35.0" height="25.26"/>
<rect x="746.8" y="1046.3" width="35.0" height="25.26"/>
<rect x="571.8" y="1071.5" width="35.0" height="25.26"/>
<rect x="746.8" y="1071.5" width="70.0" height="25.26"/>
<rect x="606.8" y="1096.8" width="35.0" height="25.26"/>
<rect x="746.8" y="1096.8" width="35.0" height="25.26"/>
<rect x="851.8" y="1096.8" width="35.2" height="25.26"/>
<rect x="746.8" y="1122.0" width="105.0" height="25.26"/>
<rect x="746.8" y="1147.3" width="35.0" height="25.26"/>
<rect x="816.8" y="1147.3" width="70.2" height="25.26"/>
<rect x="711.8" y="1172.6" width="70.0" height="25.26"/>
<rect x="851.8" y="1172.6" width="35.2" height="25.26"/>
<rect x="571.8" y="1197.8" width="35.0" height="25.26"/>
<rect x="746.8" y="1197.8" width="35.0" height="25.26"/>
<rect x="851.8" y="1197.8" width="35.2" height="25.26"/>
<rect x="571.8" y="1223.1" width="70.0" height="25.26"/>
<rect x="781.8" y="1223.1" width="35.0" height="25.26"/>
<rect x="571.8" y="1248.3" width="35.0" height="25.26"/>
<rect x="711.8" y="1248.3" width="35.0" height="25.26"/>
<rect x="816.8" y="1248.3" width="35.0" height="25.26"/>
<rect x="571.8" y="1273.6" width="70.0" height="25.26"/>
<rect x="851.8" y="1273.6" width="35.2" height="25.26"/>
<rect x="746.8" y="1298.9" width="35.0" height="25.26"/>
<rect x="816.8" y="1298.9" width="70.2" height="25.26"/>
<rect x="676.8" y="1324.1" width="35.0" height="25.26"/>
<rect x="816.8" y="1324.1" width="70.2" height="25.26"/>
<rect x="571.8" y="1349.4" width="35.0" height="25.26"/>
<rect x="746.8" y="1349.4" width="35.0" height="25.26"/>
<rect x="816.8" y="1349.4" width="35.0" height="25.26"/>
<rect x="571.8" y="1374.6" width="70.0" height="25.26"/>
<rect x="746.8" y="1374.6" width="35.0" height="25.26"/>
<rect x="711.8" y="1399.9" width="35.0" height="25.26"/>
<rect x="781.8" y="1399.9" width="70.0" height="25.26"/>
<rect x="571.8" y="1425.2" width="35.0" height="25.26"/>
<rect x="676.8" y="1425.2" width="35.0" height="25.26"/>
<rect x="816.8" y="1425.2" width="35.0" height="25.26"/>
</g>
<g stroke="#B1B1B4" stroke-width="2.0">
<line x1="573.5" y1="162.2" x2="887.0" y2="162.2"/>
<line x1="573.5" y1="187.4" x2="887.0" y2="187.4"/>
<line x1="573.5" y1="212.7" x2="887.0" y2="212.7"/>
<line x1="573.5" y1="237.9" x2="887.0" y2="237.9"/>
<line x1="573.5" y1="263.2" x2="887.0" y2="263.2"/>
<line x1="573.5" y1="288.5" x2="887.0" y2="288.5"/>
<line x1="573.5" y1="313.7" x2="887.0" y2="313.7"/>
<line x1="573.5" y1="339.0" x2="887.0" y2="339.0"/>
<line x1="573.5" y1="364.2" x2="887.0" y2="364.2"/>
<line x1="573.5" y1="389.5" x2="887.0" y2="389.5"/>
<line x1="573.5" y1="414.8" x2="887.0" y2="414.8"/>
<line x1="573.5" y1="440.0" x2="887.0" y2="440.0"/>
<line x1="573.5" y1="465.3" x2="887.0" y2="465.3"/>
<line x1="573.5" y1="490.5" x2="887.0" y2="490.5"/>
<line x1="573.5" y1="515.8" x2="887.0" y2="515.8"/>
<line x1="573.5" y1="541.1" x2="887.0" y2="541.1"/>
<line x1="573.5" y1="566.3" x2="887.0" y2="566.3"/>
<line x1="573.5" y1="591.6" x2="887.0" y2="591.6"/>
<line x1="573.5" y1="616.8" x2="887.0" y2="616.8"/>
<line x1="573.5" y1="642.1" x2="887.0" y2="642.1"/>
<line x1="573.5" y1="667.4" x2="887.0" y2="667.4"/>
<line x1="573.5" y1="692.6" x2="887.0" y2="692.6"/>
<line x1="573.5" y1="717.9" x2="887.0" y2="717.9"/>
<line x1="573.5" y1="743.1" x2="887.0" y2="743.1"/>
<line x1="573.5" y1="768.4" x2="887.0" y2="768.4"/>
<line x1="573.5" y1="793.7" x2="887.0" y2="793.7"/>
<line x1="573.5" y1="818.9" x2="887.0" y2="818.9"/>
<line x1="573.5" y1="844.2" x2="887.0" y2="844.2"/>
<line x1="573.5" y1="869.4" x2="887.0" y2="869.4"/>
<line x1="573.5" y1="894.7" x2="887.0" y2="894.7"/>
<line x1="573.5" y1="920.0" x2="887.0" y2="920.0"/>
<line x1="573.5" y1="945.2" x2="887.0" y2="945.2"/>
<line x1="573.5" y1="970.5" x2="887.0" y2="970.5"/>
<line x1="573.5" y1="995.7" x2="887.0" y2="995.7"/>
<line x1="573.5" y1="1021.0" x2="887.0" y2="1021.0"/>
<line x1="573.5" y1="1046.3" x2="887.0" y2="1046.3"/>
<line x1="573.5" y1="1071.5" x2="887.0" y2="1071.5"/>
<line x1="573.5" y1="1096.8" x2="887.0" y2="1096.8"/>
<line x1="573.5" y1="1122.0" x2="887.0" y2="1122.0"/>
<line x1="573.5" y1="1147.3" x2="887.0" y2="1147.3"/>
<line x1="573.5" y1="1172.6" x2="887.0" y2="1172.6"/>
<line x1="573.5" y1="1197.8" x2="887.0" y2="1197.8"/>
<line x1="573.5" y1="1223.1" x2="887.0" y2="1223.1"/>
<line x1="573.5" y1="1248.3" x2="887.0" y2="1248.3"/>
<line x1="573.5" y1="1273.6" x2="887.0" y2="1273.6"/>
<line x1="573.5" y1="1298.9" x2="887.0" y2="1298.9"/>
<line x1="573.5" y1="1324.1" x2="887.0" y2="1324.1"/>
<line x1="573.5" y1="1349.4" x2="887.0" y2="1349.4"/>
<line x1="573.5" y1="1374.6" x2="887.0" y2="1374.6"/>
<line x1="573.5" y1="1399.9" x2="887.0" y2="1399.9"/>
<line x1="573.5" y1="1425.2" x2="887.0" y2="1425.2"/>
<line x1="606.8" y1="139" x2="606.8" y2="1449"/>
<line x1="641.8" y1="139" x2="641.8" y2="1449"/>
<line x1="676.8" y1="139" x2="676.8" y2="1449"/>
<line x1="711.8" y1="139" x2="711.8" y2="1449"/>
<line x1="746.8" y1="139" x2="746.8" y2="1449"/>
<line x1="781.8" y1="139" x2="781.8" y2="1449"/>
<line x1="816.8" y1="139" x2="816.8" y2="1449"/>
<line x1="851.8" y1="139" x2="851.8" y2="1449"/>
</g>
<rect x="573.5" y="138.9" width="313.5" height="1310.9" fill="none" stroke="#000" stroke-width="2.8"/>
<text x="599.1" y="1465.5" font-size="27.4" text-anchor="end" textLength="66.9" lengthAdjust="spacingAndGlyphs" transform="rotate(-90 599.1 1465.5)">AML1</text>
<text x="634.1" y="1465.5" font-size="27.4" text-anchor="end" textLength="66.9" lengthAdjust="spacingAndGlyphs" transform="rotate(-90 634.1 1465.5)">AML2</text>
<text x="669.1" y="1465.5" font-size="27.4" text-anchor="end" textLength="66.9" lengthAdjust="spacingAndGlyphs" transform="rotate(-90 669.1 1465.5)">AML3</text>
<text x="704.1" y="1465.5" font-size="27.4" text-anchor="end" textLength="66.9" lengthAdjust="spacingAndGlyphs" transform="rotate(-90 704.1 1465.5)">AML4</text>
<text x="739.1" y="1465.5" font-size="27.4" text-anchor="end" textLength="66.9" lengthAdjust="spacingAndGlyphs" transform="rotate(-90 739.1 1465.5)">AML5</text>
<text x="774.1" y="1465.5" font-size="27.4" text-anchor="end" textLength="66.9" lengthAdjust="spacingAndGlyphs" transform="rotate(-90 774.1 1465.5)">AML6</text>
<text x="809.1" y="1465.5" font-size="27.4" text-anchor="end" textLength="66.9" lengthAdjust="spacingAndGlyphs" transform="rotate(-90 809.1 1465.5)">AML7</text>
<text x="844.1" y="1465.5" font-size="27.4" text-anchor="end" textLength="66.9" lengthAdjust="spacingAndGlyphs" transform="rotate(-90 844.1 1465.5)">AML9</text>
<text x="879.4" y="1465.5" font-size="27.4" text-anchor="end" textLength="81.1" lengthAdjust="spacingAndGlyphs" transform="rotate(-90 879.4 1465.5)">AML10</text>
<rect x="585.9" y="1562.1" width="34.9" height="22.7" fill="#ED1C24"/>
<text x="644.0" y="1584.8" font-size="30" fill="#231F20" textLength="213.8" lengthAdjust="spacingAndGlyphs">mutated sample</text>
<g fill="#808085" stroke="#000" stroke-width="2.3">
<rect x="580.4" y="83.3" width="20.8" height="44.9"/>
<rect x="615.3" y="98.2" width="20.8" height="30.0"/>
<rect x="650.3" y="124.9" width="20.8" height="3.3"/>
<rect x="685.2" y="94.0" width="20.8" height="34.2"/>
<rect x="720.2" y="120.2" width="20.8" height="8.0"/>
<rect x="755.1" y="74.5" width="20.8" height="53.7"/>
<rect x="790.0" y="106.1" width="20.8" height="22.1"/>
<rect x="825.0" y="91.8" width="20.8" height="36.4"/>
<rect x="859.9" y="25.1" width="20.8" height="103.1"/>
</g>
<rect x="573.5" y="21.2" width="314.0" height="107.0" fill="none" stroke="#000" stroke-width="2.6"/>
<line x1="561.3" y1="21.2" x2="573.5" y2="21.2" stroke="#000" stroke-width="2.6"/>
<text x="550.0" y="31.4" font-size="28.2" text-anchor="end">1000</text>
<line x1="561.3" y1="74.7" x2="573.5" y2="74.7" stroke="#000" stroke-width="2.6"/>
<text x="550.0" y="84.9" font-size="28.2" text-anchor="end">500</text>
<line x1="561.3" y1="128.2" x2="573.5" y2="128.2" stroke="#000" stroke-width="2.6"/>
<text x="550.0" y="138.4" font-size="28.2" text-anchor="end">0</text>
<text x="-0.9" y="33.4" font-size="46" font-weight="bold" fill="#231F20" textLength="23.3" lengthAdjust="spacingAndGlyphs">a</text>
<rect x="913.0" y="139.9" width="433.6" height="1310.3" fill="#fff"/>
<g stroke="#E2E2E2" stroke-width="2.9">
<line x1="913.0" y1="154.7" x2="1346.6" y2="154.7"/>
<line x1="913.0" y1="179.8" x2="1346.6" y2="179.8"/>
<line x1="913.0" y1="205.0" x2="1346.6" y2="205.0"/>
<line x1="913.0" y1="230.1" x2="1346.6" y2="230.1"/>
<line x1="913.0" y1="255.3" x2="1346.6" y2="255.3"/>
<line x1="913.0" y1="280.4" x2="1346.6" y2="280.4"/>
<line x1="913.0" y1="305.5" x2="1346.6" y2="305.5"/>
<line x1="913.0" y1="330.7" x2="1346.6" y2="330.7"/>
<line x1="913.0" y1="355.8" x2="1346.6" y2="355.8"/>
<line x1="913.0" y1="381.0" x2="1346.6" y2="381.0"/>
<line x1="913.0" y1="406.1" x2="1346.6" y2="406.1"/>
<line x1="913.0" y1="431.2" x2="1346.6" y2="431.2"/>
<line x1="913.0" y1="456.4" x2="1346.6" y2="456.4"/>
<line x1="913.0" y1="481.5" x2="1346.6" y2="481.5"/>
<line x1="913.0" y1="506.7" x2="1346.6" y2="506.7"/>
<line x1="913.0" y1="531.8" x2="1346.6" y2="531.8"/>
<line x1="913.0" y1="556.9" x2="1346.6" y2="556.9"/>
<line x1="913.0" y1="582.1" x2="1346.6" y2="582.1"/>
<line x1="913.0" y1="607.2" x2="1346.6" y2="607.2"/>
<line x1="913.0" y1="632.4" x2="1346.6" y2="632.4"/>
<line x1="913.0" y1="657.5" x2="1346.6" y2="657.5"/>
<line x1="913.0" y1="682.6" x2="1346.6" y2="682.6"/>
<line x1="913.0" y1="707.8" x2="1346.6" y2="707.8"/>
<line x1="913.0" y1="732.9" x2="1346.6" y2="732.9"/>
<line x1="913.0" y1="758.1" x2="1346.6" y2="758.1"/>
<line x1="913.0" y1="783.2" x2="1346.6" y2="783.2"/>
<line x1="913.0" y1="808.3" x2="1346.6" y2="808.3"/>
<line x1="913.0" y1="833.5" x2="1346.6" y2="833.5"/>
<line x1="913.0" y1="858.6" x2="1346.6" y2="858.6"/>
<line x1="913.0" y1="883.8" x2="1346.6" y2="883.8"/>
<line x1="913.0" y1="908.9" x2="1346.6" y2="908.9"/>
<line x1="913.0" y1="934.0" x2="1346.6" y2="934.0"/>
<line x1="913.0" y1="959.2" x2="1346.6" y2="959.2"/>
<line x1="913.0" y1="984.3" x2="1346.6" y2="984.3"/>
<line x1="913.0" y1="1009.5" x2="1346.6" y2="1009.5"/>
<line x1="913.0" y1="1034.6" x2="1346.6" y2="1034.6"/>
<line x1="913.0" y1="1059.7" x2="1346.6" y2="1059.7"/>
<line x1="913.0" y1="1084.9" x2="1346.6" y2="1084.9"/>
<line x1="913.0" y1="1110.0" x2="1346.6" y2="1110.0"/>
<line x1="913.0" y1="1135.2" x2="1346.6" y2="1135.2"/>
<line x1="913.0" y1="1160.3" x2="1346.6" y2="1160.3"/>
<line x1="913.0" y1="1185.4" x2="1346.6" y2="1185.4"/>
<line x1="913.0" y1="1210.6" x2="1346.6" y2="1210.6"/>
<line x1="913.0" y1="1235.7" x2="1346.6" y2="1235.7"/>
<line x1="913.0" y1="1260.9" x2="1346.6" y2="1260.9"/>
<line x1="913.0" y1="1286.0" x2="1346.6" y2="1286.0"/>
<line x1="913.0" y1="1311.1" x2="1346.6" y2="1311.1"/>
<line x1="913.0" y1="1336.3" x2="1346.6" y2="1336.3"/>
<line x1="913.0" y1="1361.4" x2="1346.6" y2="1361.4"/>
<line x1="913.0" y1="1386.6" x2="1346.6" y2="1386.6"/>
<line x1="913.0" y1="1411.7" x2="1346.6" y2="1411.7"/>
<line x1="913.0" y1="1436.8" x2="1346.6" y2="1436.8"/>
<line x1="944.1" y1="139.9" x2="944.1" y2="1450.2"/>
<line x1="997.2" y1="139.9" x2="997.2" y2="1450.2"/>
<line x1="1050.2" y1="139.9" x2="1050.2" y2="1450.2"/>
<line x1="1103.3" y1="139.9" x2="1103.3" y2="1450.2"/>
<line x1="1156.4" y1="139.9" x2="1156.4" y2="1450.2"/>
<line x1="1209.5" y1="139.9" x2="1209.5" y2="1450.2"/>
<line x1="1262.5" y1="139.9" x2="1262.5" y2="1450.2"/>
<line x1="1315.6" y1="139.9" x2="1315.6" y2="1450.2"/>
</g>
<circle cx="944.1" cy="154.7" r="11.50" fill="#CC2B35" stroke="#fff" stroke-width="6.8"/>
<circle cx="997.2" cy="154.7" r="8.00" fill="#36356E" stroke="#fff" stroke-width="6.8"/>
<circle cx="1050.2" cy="154.7" r="13.50" fill="#3F8B4A" stroke="#fff" stroke-width="6.8"/>
<circle cx="1103.3" cy="154.7" r="10.50" fill="#7E3A91" stroke="#fff" stroke-width="6.8"/>
<circle cx="1156.4" cy="154.7" r="9.20" fill="#EC7D3F" stroke="#fff" stroke-width="6.8"/>
<circle cx="1209.5" cy="154.7" r="8.00" fill="#F2D43E" stroke="#fff" stroke-width="6.8"/>
<circle cx="1262.5" cy="154.7" r="9.10" fill="#7D97C9" stroke="#000" stroke-width="7.2"/>
<circle cx="1315.6" cy="154.7" r="7.30" fill="#AE6CAA" stroke="#fff" stroke-width="6.8"/>
<circle cx="944.1" cy="179.8" r="11.50" fill="#CC2B35" stroke="#fff" stroke-width="6.8"/>
<circle cx="997.2" cy="179.8" r="9.70" fill="#36356E" stroke="#fff" stroke-width="6.8"/>
<circle cx="1103.3" cy="179.8" r="8.70" fill="#7E3A91" stroke="#fff" stroke-width="6.8"/>
<circle cx="1156.4" cy="179.8" r="8.20" fill="#EC7D3F" stroke="#fff" stroke-width="6.8"/>
<circle cx="1209.5" cy="179.8" r="9.70" fill="#F2D43E" stroke="#fff" stroke-width="6.8"/>
<circle cx="1262.5" cy="179.8" r="7.50" fill="#7D97C9" stroke="#fff" stroke-width="6.8"/>
<circle cx="1315.6" cy="179.8" r="5.70" fill="#AE6CAA" stroke="#fff" stroke-width="6.8"/>
<circle cx="944.1" cy="205.0" r="11.50" fill="#CC2B35" stroke="#fff" stroke-width="6.8"/>
<circle cx="997.2" cy="205.0" r="10.50" fill="#36356E" stroke="#fff" stroke-width="6.8"/>
<circle cx="1103.3" cy="205.0" r="11.00" fill="#7E3A91" stroke="#fff" stroke-width="6.8"/>
<circle cx="1156.4" cy="205.0" r="5.90" fill="#EC7D3F" stroke="#fff" stroke-width="6.8"/>
<circle cx="1209.5" cy="205.0" r="10.30" fill="#F2D43E" stroke="#fff" stroke-width="6.8"/>
<circle cx="1262.5" cy="205.0" r="8.20" fill="#7D97C9" stroke="#fff" stroke-width="6.8"/>
<circle cx="1315.6" cy="205.0" r="7.80" fill="#AE6CAA" stroke="#fff" stroke-width="6.8"/>
<circle cx="944.1" cy="230.1" r="11.70" fill="#CC2B35" stroke="#fff" stroke-width="6.8"/>
<circle cx="997.2" cy="230.1" r="12.00" fill="#36356E" stroke="#fff" stroke-width="6.8"/>
<circle cx="1050.2" cy="230.1" r="11.20" fill="#3F8B4A" stroke="#fff" stroke-width="6.8"/>
<circle cx="1103.3" cy="230.1" r="8.00" fill="#7E3A91" stroke="#fff" stroke-width="6.8"/>
<circle cx="1156.4" cy="230.1" r="9.20" fill="#EC7D3F" stroke="#fff" stroke-width="6.8"/>
<circle cx="1209.5" cy="230.1" r="7.30" fill="#F2D43E" stroke="#fff" stroke-width="6.8"/>
<circle cx="1262.5" cy="230.1" r="8.70" fill="#7D97C9" stroke="#fff" stroke-width="6.8"/>
<circle cx="1315.6" cy="230.1" r="8.20" fill="#AE6CAA" stroke="#fff" stroke-width="6.8"/>
<circle cx="944.1" cy="255.3" r="12.80" fill="#CC2B35" stroke="#fff" stroke-width="6.8"/>
<circle cx="997.2" cy="255.3" r="8.90" fill="#36356E" stroke="#fff" stroke-width="6.8"/>
<circle cx="1050.2" cy="255.3" r="12.60" fill="#3F8B4A" stroke="#fff" stroke-width="6.8"/>
<circle cx="1103.3" cy="255.3" r="8.90" fill="#7E3A91" stroke="#fff" stroke-width="6.8"/>
<circle cx="1156.4" cy="255.3" r="8.20" fill="#EC7D3F" stroke="#fff" stroke-width="6.8"/>
<circle cx="1209.5" cy="255.3" r="11.70" fill="#F2D43E" stroke="#fff" stroke-width="6.8"/>
<circle cx="944.1" cy="280.4" r="10.50" fill="#CC2B35" stroke="#fff" stroke-width="6.8"/>
<circle cx="997.2" cy="280.4" r="8.90" fill="#36356E" stroke="#fff" stroke-width="6.8"/>
<circle cx="1050.2" cy="280.4" r="10.30" fill="#3F8B4A" stroke="#fff" stroke-width="6.8"/>
<circle cx="1103.3" cy="280.4" r="9.90" fill="#7E3A91" stroke="#fff" stroke-width="6.8"/>
<circle cx="1156.4" cy="280.4" r="5.70" fill="#EC7D3F" stroke="#fff" stroke-width="6.8"/>
<circle cx="1209.5" cy="280.4" r="8.70" fill="#F2D43E" stroke="#fff" stroke-width="6.8"/>
<circle cx="1315.6" cy="280.4" r="7.80" fill="#AE6CAA" stroke="#fff" stroke-width="6.8"/>
<circle cx="944.1" cy="305.5" r="11.70" fill="#CC2B35" stroke="#fff" stroke-width="6.8"/>
<circle cx="997.2" cy="305.5" r="8.90" fill="#36356E" stroke="#fff" stroke-width="6.8"/>
<circle cx="1050.2" cy="305.5" r="13.65" fill="#3F8B4A" stroke="#000" stroke-width="6.1"/>
<circle cx="1103.3" cy="305.5" r="8.00" fill="#7E3A91" stroke="#fff" stroke-width="6.8"/>
<circle cx="1209.5" cy="305.5" r="8.70" fill="#F2D43E" stroke="#fff" stroke-width="6.8"/>
<circle cx="1315.6" cy="305.5" r="5.90" fill="#AE6CAA" stroke="#fff" stroke-width="6.8"/>
<circle cx="944.1" cy="330.7" r="9.90" fill="#CC2B35" stroke="#fff" stroke-width="6.8"/>
<circle cx="997.2" cy="330.7" r="8.90" fill="#36356E" stroke="#fff" stroke-width="6.8"/>
<circle cx="1050.2" cy="330.7" r="9.70" fill="#3F8B4A" stroke="#fff" stroke-width="6.8"/>
<circle cx="1156.4" cy="330.7" r="9.20" fill="#EC7D3F" stroke="#fff" stroke-width="6.8"/>
<circle cx="1209.5" cy="330.7" r="9.20" fill="#F2D43E" stroke="#fff" stroke-width="6.8"/>
<circle cx="1315.6" cy="330.7" r="7.80" fill="#AE6CAA" stroke="#fff" stroke-width="6.8"/>
<circle cx="944.1" cy="355.8" r="11.50" fill="#CC2B35" stroke="#fff" stroke-width="6.8"/>
<circle cx="1050.2" cy="355.8" r="17.00" fill="#3F8B4A" stroke="#000" stroke-width="6.4"/>
<circle cx="1103.3" cy="355.8" r="11.70" fill="#7E3A91" stroke="#fff" stroke-width="6.8"/>
<circle cx="1156.4" cy="355.8" r="10.30" fill="#EC7D3F" stroke="#fff" stroke-width="6.8"/>
<circle cx="1209.5" cy="355.8" r="8.90" fill="#F2D43E" stroke="#fff" stroke-width="6.8"/>
<circle cx="1262.5" cy="355.8" r="5.90" fill="#7D97C9" stroke="#fff" stroke-width="6.8"/>
<circle cx="1315.6" cy="355.8" r="7.80" fill="#AE6CAA" stroke="#fff" stroke-width="6.8"/>
<circle cx="944.1" cy="381.0" r="10.50" fill="#CC2B35" stroke="#fff" stroke-width="6.8"/>
<circle cx="1050.2" cy="381.0" r="15.85" fill="#3F8B4A" stroke="#000" stroke-width="6.3"/>
<circle cx="1103.3" cy="381.0" r="8.90" fill="#7E3A91" stroke="#fff" stroke-width="6.8"/>
<circle cx="1156.4" cy="381.0" r="8.20" fill="#EC7D3F" stroke="#fff" stroke-width="6.8"/>
<circle cx="1209.5" cy="381.0" r="13.95" fill="#F2D43E" stroke="#000" stroke-width="6.7"/>
<circle cx="1262.5" cy="381.0" r="7.50" fill="#7D97C9" stroke="#fff" stroke-width="6.8"/>
<circle cx="1315.6" cy="381.0" r="8.70" fill="#AE6CAA" stroke="#fff" stroke-width="6.8"/>
<circle cx="944.1" cy="406.1" r="13.30" fill="#CC2B35" stroke="#fff" stroke-width="6.8"/>
<circle cx="1050.2" cy="406.1" r="20.05" fill="#3F8B4A" stroke="#000" stroke-width="6.7"/>
<circle cx="1103.3" cy="406.1" r="10.50" fill="#7E3A91" stroke="#fff" stroke-width="6.8"/>
<circle cx="1156.4" cy="406.1" r="8.20" fill="#EC7D3F" stroke="#fff" stroke-width="6.8"/>
<circle cx="1209.5" cy="406.1" r="8.00" fill="#F2D43E" stroke="#fff" stroke-width="6.8"/>
<circle cx="1262.5" cy="406.1" r="8.20" fill="#7D97C9" stroke="#fff" stroke-width="6.8"/>
<circle cx="1315.6" cy="406.1" r="7.50" fill="#AE6CAA" stroke="#fff" stroke-width="6.8"/>
<circle cx="944.1" cy="431.2" r="12.60" fill="#CC2B35" stroke="#fff" stroke-width="6.8"/>
<circle cx="1050.2" cy="431.2" r="14.55" fill="#3F8B4A" stroke="#000" stroke-width="5.5"/>
<circle cx="1103.3" cy="431.2" r="11.00" fill="#7E3A91" stroke="#fff" stroke-width="6.8"/>
<circle cx="1156.4" cy="431.2" r="5.90" fill="#EC7D3F" stroke="#fff" stroke-width="6.8"/>
<circle cx="1209.5" cy="431.2" r="10.10" fill="#F2D43E" stroke="#fff" stroke-width="6.8"/>
<circle cx="1262.5" cy="431.2" r="8.90" fill="#7D97C9" stroke="#fff" stroke-width="6.8"/>
<circle cx="1315.6" cy="431.2" r="5.90" fill="#AE6CAA" stroke="#fff" stroke-width="6.8"/>
<circle cx="944.1" cy="456.4" r="5.90" fill="#CC2B35" stroke="#fff" stroke-width="6.8"/>
<circle cx="997.2" cy="456.4" r="10.50" fill="#36356E" stroke="#fff" stroke-width="6.8"/>
<circle cx="1050.2" cy="456.4" r="14.35" fill="#3F8B4A" stroke="#000" stroke-width="6.3"/>
<circle cx="1103.3" cy="456.4" r="7.50" fill="#7E3A91" stroke="#fff" stroke-width="6.8"/>
<circle cx="1156.4" cy="456.4" r="7.50" fill="#EC7D3F" stroke="#fff" stroke-width="6.8"/>
<circle cx="1209.5" cy="456.4" r="10.30" fill="#F2D43E" stroke="#fff" stroke-width="6.8"/>
<circle cx="1050.2" cy="481.5" r="11.40" fill="#3F8B4A" stroke="#fff" stroke-width="6.8"/>
<circle cx="1156.4" cy="481.5" r="9.40" fill="#EC7D3F" stroke="#fff" stroke-width="6.8"/>
<circle cx="1209.5" cy="481.5" r="11.10" fill="#F2D43E" stroke="#000" stroke-width="6.6"/>
<circle cx="1262.5" cy="481.5" r="8.00" fill="#7D97C9" stroke="#fff" stroke-width="6.8"/>
<circle cx="944.1" cy="506.7" r="14.90" fill="#CC2B35" stroke="#fff" stroke-width="6.8"/>
<circle cx="997.2" cy="506.7" r="14.90" fill="#36356E" stroke="#fff" stroke-width="6.8"/>
<circle cx="1050.2" cy="506.7" r="21.50" fill="#3F8B4A" stroke="#000" stroke-width="7.0"/>
<circle cx="1103.3" cy="506.7" r="12.40" fill="#7E3A91" stroke="#fff" stroke-width="6.8"/>
<circle cx="1156.4" cy="506.7" r="15.05" fill="#EC7D3F" stroke="#000" stroke-width="6.3"/>
<circle cx="1262.5" cy="506.7" r="5.70" fill="#7D97C9" stroke="#fff" stroke-width="6.8"/>
<circle cx="1315.6" cy="506.7" r="10.50" fill="#AE6CAA" stroke="#fff" stroke-width="6.8"/>
<circle cx="944.1" cy="531.8" r="14.20" fill="#CC2B35" stroke="#000" stroke-width="6.6"/>
<circle cx="997.2" cy="531.8" r="11.20" fill="#36356E" stroke="#fff" stroke-width="6.8"/>
<circle cx="1103.3" cy="531.8" r="8.00" fill="#7E3A91" stroke="#fff" stroke-width="6.8"/>
<circle cx="1156.4" cy="531.8" r="8.70" fill="#EC7D3F" stroke="#fff" stroke-width="6.8"/>
<circle cx="1209.5" cy="531.8" r="9.90" fill="#F2D43E" stroke="#fff" stroke-width="6.8"/>
<circle cx="1315.6" cy="531.8" r="7.10" fill="#AE6CAA" stroke="#fff" stroke-width="6.8"/>
<circle cx="1050.2" cy="556.9" r="12.05" fill="#3F8B4A" stroke="#000" stroke-width="7.5"/>
<circle cx="1103.3" cy="556.9" r="8.70" fill="#7E3A91" stroke="#fff" stroke-width="6.8"/>
<circle cx="1156.4" cy="556.9" r="7.50" fill="#EC7D3F" stroke="#fff" stroke-width="6.8"/>
<circle cx="1209.5" cy="556.9" r="9.20" fill="#F2D43E" stroke="#fff" stroke-width="6.8"/>
<circle cx="1262.5" cy="556.9" r="7.50" fill="#7D97C9" stroke="#fff" stroke-width="6.8"/>
<circle cx="1315.6" cy="556.9" r="5.90" fill="#AE6CAA" stroke="#fff" stroke-width="6.8"/>
<circle cx="944.1" cy="582.1" r="7.50" fill="#CC2B35" stroke="#fff" stroke-width="6.8"/>
<circle cx="1050.2" cy="582.1" r="8.70" fill="#3F8B4A" stroke="#fff" stroke-width="6.8"/>
<circle cx="1103.3" cy="582.1" r="8.50" fill="#7E3A91" stroke="#fff" stroke-width="6.8"/>
<circle cx="1156.4" cy="582.1" r="5.90" fill="#EC7D3F" stroke="#fff" stroke-width="6.8"/>
<circle cx="1209.5" cy="582.1" r="5.70" fill="#F2D43E" stroke="#fff" stroke-width="6.8"/>
<circle cx="1262.5" cy="582.1" r="5.90" fill="#7D97C9" stroke="#fff" stroke-width="6.8"/>
<circle cx="1315.6" cy="582.1" r="7.50" fill="#AE6CAA" stroke="#fff" stroke-width="6.8"/>
<circle cx="944.1" cy="607.2" r="10.80" fill="#CC2B35" stroke="#fff" stroke-width="6.8"/>
<circle cx="997.2" cy="607.2" r="10.80" fill="#36356E" stroke="#fff" stroke-width="6.8"/>
<circle cx="1050.2" cy="607.2" r="15.60" fill="#3F8B4A" stroke="#000" stroke-width="6.4"/>
<circle cx="1103.3" cy="607.2" r="9.90" fill="#7E3A91" stroke="#fff" stroke-width="6.8"/>
<circle cx="1156.4" cy="607.2" r="9.90" fill="#EC7D3F" stroke="#fff" stroke-width="6.8"/>
<circle cx="1209.5" cy="607.2" r="5.70" fill="#F2D43E" stroke="#fff" stroke-width="6.8"/>
<circle cx="1315.6" cy="607.2" r="5.90" fill="#AE6CAA" stroke="#fff" stroke-width="6.8"/>
<circle cx="944.1" cy="632.4" r="7.50" fill="#CC2B35" stroke="#fff" stroke-width="6.8"/>
<circle cx="997.2" cy="632.4" r="8.90" fill="#36356E" stroke="#fff" stroke-width="6.8"/>
<circle cx="1050.2" cy="632.4" r="14.40" fill="#3F8B4A" stroke="#000" stroke-width="6.4"/>
<circle cx="1103.3" cy="632.4" r="10.50" fill="#7E3A91" stroke="#fff" stroke-width="6.8"/>
<circle cx="1156.4" cy="632.4" r="8.20" fill="#EC7D3F" stroke="#fff" stroke-width="6.8"/>
<circle cx="944.1" cy="657.5" r="11.50" fill="#CC2B35" stroke="#fff" stroke-width="6.8"/>
<circle cx="997.2" cy="657.5" r="5.90" fill="#36356E" stroke="#fff" stroke-width="6.8"/>
<circle cx="1050.2" cy="657.5" r="11.50" fill="#3F8B4A" stroke="#fff" stroke-width="6.8"/>
<circle cx="1103.3" cy="657.5" r="10.50" fill="#7E3A91" stroke="#fff" stroke-width="6.8"/>
<circle cx="1209.5" cy="657.5" r="8.20" fill="#F2D43E" stroke="#fff" stroke-width="6.8"/>
<circle cx="1262.5" cy="657.5" r="5.90" fill="#7D97C9" stroke="#fff" stroke-width="6.8"/>
<circle cx="944.1" cy="682.6" r="5.70" fill="#CC2B35" stroke="#fff" stroke-width="6.8"/>
<circle cx="997.2" cy="682.6" r="8.00" fill="#36356E" stroke="#fff" stroke-width="6.8"/>
<circle cx="1156.4" cy="682.6" r="5.70" fill="#EC7D3F" stroke="#fff" stroke-width="6.8"/>
<circle cx="1209.5" cy="682.6" r="9.85" fill="#F2D43E" stroke="#000" stroke-width="6.3"/>
<circle cx="1315.6" cy="682.6" r="8.00" fill="#AE6CAA" stroke="#fff" stroke-width="6.8"/>
<circle cx="944.1" cy="707.8" r="10.10" fill="#CC2B35" stroke="#fff" stroke-width="6.8"/>
<circle cx="997.2" cy="707.8" r="5.70" fill="#36356E" stroke="#fff" stroke-width="6.8"/>
<circle cx="1050.2" cy="707.8" r="11.20" fill="#3F8B4A" stroke="#fff" stroke-width="6.8"/>
<circle cx="1103.3" cy="707.8" r="8.50" fill="#7E3A91" stroke="#fff" stroke-width="6.8"/>
<circle cx="1315.6" cy="707.8" r="5.90" fill="#AE6CAA" stroke="#fff" stroke-width="6.8"/>
<circle cx="944.1" cy="732.9" r="11.50" fill="#CC2B35" stroke="#fff" stroke-width="6.8"/>
<circle cx="997.2" cy="732.9" r="14.55" fill="#36356E" stroke="#000" stroke-width="6.7"/>
<circle cx="1103.3" cy="732.9" r="13.50" fill="#7E3A91" stroke="#fff" stroke-width="6.8"/>
<circle cx="1156.4" cy="732.9" r="16.15" fill="#EC7D3F" stroke="#000" stroke-width="6.5"/>
<circle cx="1262.5" cy="732.9" r="5.70" fill="#7D97C9" stroke="#fff" stroke-width="6.8"/>
<circle cx="1315.6" cy="732.9" r="8.70" fill="#AE6CAA" stroke="#fff" stroke-width="6.8"/>
<circle cx="944.1" cy="758.1" r="10.50" fill="#CC2B35" stroke="#fff" stroke-width="6.8"/>
<circle cx="997.2" cy="758.1" r="10.10" fill="#36356E" stroke="#fff" stroke-width="6.8"/>
<circle cx="1103.3" cy="758.1" r="11.50" fill="#7E3A91" stroke="#fff" stroke-width="6.8"/>
<circle cx="1156.4" cy="758.1" r="15.25" fill="#EC7D3F" stroke="#000" stroke-width="6.3"/>
<circle cx="1262.5" cy="758.1" r="5.90" fill="#7D97C9" stroke="#fff" stroke-width="6.8"/>
<circle cx="1315.6" cy="758.1" r="7.50" fill="#AE6CAA" stroke="#fff" stroke-width="6.8"/>
<circle cx="944.1" cy="783.2" r="9.90" fill="#CC2B35" stroke="#fff" stroke-width="6.8"/>
<circle cx="1103.3" cy="783.2" r="7.50" fill="#7E3A91" stroke="#fff" stroke-width="6.8"/>
<circle cx="1209.5" cy="783.2" r="10.00" fill="#F2D43E" stroke="#000" stroke-width="6.6"/>
<circle cx="1262.5" cy="783.2" r="5.90" fill="#7D97C9" stroke="#fff" stroke-width="6.8"/>
<circle cx="944.1" cy="808.3" r="10.10" fill="#CC2B35" stroke="#fff" stroke-width="6.8"/>
<circle cx="997.2" cy="808.3" r="8.00" fill="#36356E" stroke="#fff" stroke-width="6.8"/>
<circle cx="1103.3" cy="808.3" r="7.50" fill="#7E3A91" stroke="#fff" stroke-width="6.8"/>
<circle cx="1209.5" cy="808.3" r="8.00" fill="#F2D43E" stroke="#fff" stroke-width="6.8"/>
<circle cx="1262.5" cy="808.3" r="7.50" fill="#7D97C9" stroke="#fff" stroke-width="6.8"/>
<circle cx="1315.6" cy="808.3" r="5.90" fill="#AE6CAA" stroke="#fff" stroke-width="6.8"/>
<circle cx="944.1" cy="833.5" r="11.15" fill="#CC2B35" stroke="#000" stroke-width="6.9"/>
<circle cx="1103.3" cy="833.5" r="8.90" fill="#7E3A91" stroke="#fff" stroke-width="6.8"/>
<circle cx="1209.5" cy="833.5" r="9.40" fill="#F2D43E" stroke="#fff" stroke-width="6.8"/>
<circle cx="944.1" cy="858.6" r="8.20" fill="#CC2B35" stroke="#fff" stroke-width="6.8"/>
<circle cx="997.2" cy="858.6" r="5.70" fill="#36356E" stroke="#fff" stroke-width="6.8"/>
<circle cx="1103.3" cy="858.6" r="11.90" fill="#7E3A91" stroke="#fff" stroke-width="6.8"/>
<circle cx="1156.4" cy="858.6" r="13.80" fill="#EC7D3F" stroke="#000" stroke-width="6.4"/>
<circle cx="1209.5" cy="858.6" r="11.70" fill="#F2D43E" stroke="#fff" stroke-width="6.8"/>
<circle cx="1315.6" cy="858.6" r="8.00" fill="#AE6CAA" stroke="#fff" stroke-width="6.8"/>
<circle cx="944.1" cy="883.8" r="5.90" fill="#CC2B35" stroke="#fff" stroke-width="6.8"/>
<circle cx="1050.2" cy="883.8" r="14.65" fill="#3F8B4A" stroke="#000" stroke-width="6.9"/>
<circle cx="1103.3" cy="883.8" r="9.90" fill="#7E3A91" stroke="#fff" stroke-width="6.8"/>
<circle cx="1156.4" cy="883.8" r="10.30" fill="#EC7D3F" stroke="#fff" stroke-width="6.8"/>
<circle cx="1315.6" cy="883.8" r="7.50" fill="#AE6CAA" stroke="#fff" stroke-width="6.8"/>
<circle cx="944.1" cy="908.9" r="10.95" fill="#CC2B35" stroke="#000" stroke-width="6.5"/>
<circle cx="997.2" cy="908.9" r="9.40" fill="#36356E" stroke="#fff" stroke-width="6.8"/>
<circle cx="1050.2" cy="908.9" r="8.70" fill="#3F8B4A" stroke="#fff" stroke-width="6.8"/>
<circle cx="1103.3" cy="908.9" r="7.50" fill="#7E3A91" stroke="#fff" stroke-width="6.8"/>
<circle cx="944.1" cy="934.0" r="7.50" fill="#CC2B35" stroke="#fff" stroke-width="6.8"/>
<circle cx="997.2" cy="934.0" r="10.95" fill="#36356E" stroke="#000" stroke-width="6.5"/>
<circle cx="1103.3" cy="934.0" r="10.95" fill="#7E3A91" stroke="#000" stroke-width="6.5"/>
<circle cx="1156.4" cy="934.0" r="8.00" fill="#EC7D3F" stroke="#fff" stroke-width="6.8"/>
<circle cx="1209.5" cy="934.0" r="10.50" fill="#F2D43E" stroke="#fff" stroke-width="6.8"/>
<circle cx="944.1" cy="959.2" r="11.35" fill="#CC2B35" stroke="#000" stroke-width="6.5"/>
<circle cx="997.2" cy="959.2" r="8.70" fill="#36356E" stroke="#fff" stroke-width="6.8"/>
<circle cx="1103.3" cy="959.2" r="5.90" fill="#7E3A91" stroke="#fff" stroke-width="6.8"/>
<circle cx="1156.4" cy="959.2" r="8.00" fill="#EC7D3F" stroke="#fff" stroke-width="6.8"/>
<circle cx="1209.5" cy="959.2" r="5.90" fill="#F2D43E" stroke="#fff" stroke-width="6.8"/>
<circle cx="944.1" cy="984.3" r="5.90" fill="#CC2B35" stroke="#fff" stroke-width="6.8"/>
<circle cx="997.2" cy="984.3" r="9.40" fill="#36356E" stroke="#fff" stroke-width="6.8"/>
<circle cx="1050.2" cy="984.3" r="11.50" fill="#3F8B4A" stroke="#000" stroke-width="6.4"/>
<circle cx="1156.4" cy="984.3" r="8.20" fill="#EC7D3F" stroke="#fff" stroke-width="6.8"/>
<circle cx="997.2" cy="1009.5" r="8.70" fill="#36356E" stroke="#fff" stroke-width="6.8"/>
<circle cx="1050.2" cy="1009.5" r="5.90" fill="#3F8B4A" stroke="#fff" stroke-width="6.8"/>
<circle cx="1103.3" cy="1009.5" r="5.90" fill="#7E3A91" stroke="#fff" stroke-width="6.8"/>
<circle cx="1156.4" cy="1009.5" r="9.20" fill="#EC7D3F" stroke="#000" stroke-width="6.4"/>
<circle cx="1209.5" cy="1009.5" r="7.50" fill="#F2D43E" stroke="#fff" stroke-width="6.8"/>
<circle cx="1315.6" cy="1009.5" r="7.50" fill="#AE6CAA" stroke="#fff" stroke-width="6.8"/>
<circle cx="997.2" cy="1034.6" r="10.10" fill="#36356E" stroke="#fff" stroke-width="6.8"/>
<circle cx="1156.4" cy="1034.6" r="8.00" fill="#EC7D3F" stroke="#fff" stroke-width="6.8"/>
<circle cx="1209.5" cy="1034.6" r="11.50" fill="#F2D43E" stroke="#000" stroke-width="6.4"/>
<circle cx="1262.5" cy="1034.6" r="8.70" fill="#7D97C9" stroke="#fff" stroke-width="6.8"/>
<circle cx="1315.6" cy="1034.6" r="7.50" fill="#AE6CAA" stroke="#fff" stroke-width="6.8"/>
<circle cx="944.1" cy="1059.7" r="11.15" fill="#CC2B35" stroke="#000" stroke-width="6.9"/>
<circle cx="1156.4" cy="1059.7" r="7.50" fill="#EC7D3F" stroke="#fff" stroke-width="6.8"/>
<circle cx="1209.5" cy="1059.7" r="8.70" fill="#F2D43E" stroke="#fff" stroke-width="6.8"/>
<circle cx="1262.5" cy="1059.7" r="7.50" fill="#7D97C9" stroke="#fff" stroke-width="6.8"/>
<circle cx="1315.6" cy="1059.7" r="5.90" fill="#AE6CAA" stroke="#fff" stroke-width="6.8"/>
<circle cx="944.1" cy="1084.9" r="9.20" fill="#CC2B35" stroke="#fff" stroke-width="6.8"/>
<circle cx="1103.3" cy="1084.9" r="10.55" fill="#7E3A91" stroke="#000" stroke-width="6.5"/>
<circle cx="1156.4" cy="1084.9" r="8.00" fill="#EC7D3F" stroke="#fff" stroke-width="6.8"/>
<circle cx="1209.5" cy="1084.9" r="8.00" fill="#F2D43E" stroke="#fff" stroke-width="6.8"/>
<circle cx="944.1" cy="1110.0" r="8.70" fill="#CC2B35" stroke="#fff" stroke-width="6.8"/>
<circle cx="1050.2" cy="1110.0" r="8.70" fill="#3F8B4A" stroke="#fff" stroke-width="6.8"/>
<circle cx="1103.3" cy="1110.0" r="7.50" fill="#7E3A91" stroke="#fff" stroke-width="6.8"/>
<circle cx="1262.5" cy="1110.0" r="7.60" fill="#7D97C9" stroke="#000" stroke-width="7.0"/>
<circle cx="944.1" cy="1135.2" r="9.90" fill="#CC2B35" stroke="#fff" stroke-width="6.8"/>
<circle cx="997.2" cy="1135.2" r="10.50" fill="#36356E" stroke="#fff" stroke-width="6.8"/>
<circle cx="1103.3" cy="1135.2" r="10.10" fill="#7E3A91" stroke="#fff" stroke-width="6.8"/>
<circle cx="944.1" cy="1160.3" r="8.70" fill="#CC2B35" stroke="#fff" stroke-width="6.8"/>
<circle cx="997.2" cy="1160.3" r="8.00" fill="#36356E" stroke="#fff" stroke-width="6.8"/>
<circle cx="1050.2" cy="1160.3" r="11.65" fill="#3F8B4A" stroke="#000" stroke-width="7.1"/>
<circle cx="1103.3" cy="1160.3" r="5.90" fill="#7E3A91" stroke="#fff" stroke-width="6.8"/>
<circle cx="1315.6" cy="1160.3" r="5.90" fill="#AE6CAA" stroke="#fff" stroke-width="6.8"/>
<circle cx="944.1" cy="1185.4" r="12.55" fill="#CC2B35" stroke="#000" stroke-width="6.7"/>
<circle cx="997.2" cy="1185.4" r="8.70" fill="#36356E" stroke="#fff" stroke-width="6.8"/>
<circle cx="1050.2" cy="1185.4" r="14.65" fill="#3F8B4A" stroke="#000" stroke-width="6.9"/>
<circle cx="1103.3" cy="1185.4" r="5.90" fill="#7E3A91" stroke="#fff" stroke-width="6.8"/>
<circle cx="1315.6" cy="1185.4" r="7.50" fill="#AE6CAA" stroke="#fff" stroke-width="6.8"/>
<circle cx="944.1" cy="1210.6" r="10.10" fill="#CC2B35" stroke="#fff" stroke-width="6.8"/>
<circle cx="1050.2" cy="1210.6" r="11.50" fill="#3F8B4A" stroke="#fff" stroke-width="6.8"/>
<circle cx="1103.3" cy="1210.6" r="7.50" fill="#7E3A91" stroke="#fff" stroke-width="6.8"/>
<circle cx="1209.5" cy="1210.6" r="8.70" fill="#F2D43E" stroke="#fff" stroke-width="6.8"/>
<circle cx="944.1" cy="1235.7" r="8.70" fill="#CC2B35" stroke="#fff" stroke-width="6.8"/>
<circle cx="1103.3" cy="1235.7" r="13.80" fill="#7E3A91" stroke="#000" stroke-width="6.4"/>
<circle cx="1209.5" cy="1235.7" r="12.75" fill="#F2D43E" stroke="#000" stroke-width="6.7"/>
<circle cx="1262.5" cy="1235.7" r="9.35" fill="#7D97C9" stroke="#000" stroke-width="6.7"/>
<circle cx="1315.6" cy="1235.7" r="5.90" fill="#AE6CAA" stroke="#fff" stroke-width="6.8"/>
<circle cx="944.1" cy="1260.9" r="7.50" fill="#CC2B35" stroke="#fff" stroke-width="6.8"/>
<circle cx="997.2" cy="1260.9" r="13.80" fill="#36356E" stroke="#000" stroke-width="6.4"/>
<circle cx="1103.3" cy="1260.9" r="7.50" fill="#7E3A91" stroke="#fff" stroke-width="6.8"/>
<circle cx="1156.4" cy="1260.9" r="8.70" fill="#EC7D3F" stroke="#fff" stroke-width="6.8"/>
<circle cx="1209.5" cy="1260.9" r="10.30" fill="#F2D43E" stroke="#fff" stroke-width="6.8"/>
<circle cx="1262.5" cy="1260.9" r="5.90" fill="#7D97C9" stroke="#fff" stroke-width="6.8"/>
<circle cx="944.1" cy="1286.0" r="5.90" fill="#CC2B35" stroke="#fff" stroke-width="6.8"/>
<circle cx="1050.2" cy="1286.0" r="10.30" fill="#3F8B4A" stroke="#fff" stroke-width="6.8"/>
<circle cx="1156.4" cy="1286.0" r="5.90" fill="#EC7D3F" stroke="#fff" stroke-width="6.8"/>
<circle cx="1209.5" cy="1286.0" r="9.20" fill="#F2D43E" stroke="#fff" stroke-width="6.8"/>
<circle cx="1262.5" cy="1286.0" r="8.15" fill="#7D97C9" stroke="#000" stroke-width="6.7"/>
<circle cx="1315.6" cy="1286.0" r="5.90" fill="#AE6CAA" stroke="#fff" stroke-width="6.8"/>
<circle cx="944.1" cy="1311.1" r="14.50" fill="#CC2B35" stroke="#fff" stroke-width="6.8"/>
<circle cx="997.2" cy="1311.1" r="13.50" fill="#36356E" stroke="#fff" stroke-width="6.8"/>
<circle cx="1050.2" cy="1311.1" r="22.70" fill="#3F8B4A" stroke="#000" stroke-width="7.0"/>
<circle cx="1103.3" cy="1311.1" r="11.20" fill="#7E3A91" stroke="#fff" stroke-width="6.8"/>
<circle cx="1156.4" cy="1311.1" r="5.90" fill="#EC7D3F" stroke="#fff" stroke-width="6.8"/>
<circle cx="1315.6" cy="1311.1" r="8.90" fill="#AE6CAA" stroke="#fff" stroke-width="6.8"/>
<circle cx="944.1" cy="1336.3" r="5.90" fill="#CC2B35" stroke="#fff" stroke-width="6.8"/>
<circle cx="997.2" cy="1336.3" r="8.00" fill="#36356E" stroke="#fff" stroke-width="6.8"/>
<circle cx="1050.2" cy="1336.3" r="10.30" fill="#3F8B4A" stroke="#fff" stroke-width="6.8"/>
<circle cx="1103.3" cy="1336.3" r="5.90" fill="#7E3A91" stroke="#fff" stroke-width="6.8"/>
<circle cx="1156.4" cy="1336.3" r="8.20" fill="#EC7D3F" stroke="#fff" stroke-width="6.8"/>
<circle cx="944.1" cy="1361.4" r="12.50" fill="#CC2B35" stroke="#000" stroke-width="6.6"/>
<circle cx="997.2" cy="1361.4" r="9.40" fill="#36356E" stroke="#fff" stroke-width="6.8"/>
<circle cx="1103.3" cy="1361.4" r="5.90" fill="#7E3A91" stroke="#fff" stroke-width="6.8"/>
<circle cx="1156.4" cy="1361.4" r="5.90" fill="#EC7D3F" stroke="#fff" stroke-width="6.8"/>
<circle cx="1209.5" cy="1361.4" r="10.30" fill="#F2D43E" stroke="#fff" stroke-width="6.8"/>
<circle cx="1315.6" cy="1361.4" r="7.50" fill="#AE6CAA" stroke="#fff" stroke-width="6.8"/>
<circle cx="944.1" cy="1386.6" r="10.10" fill="#CC2B35" stroke="#fff" stroke-width="6.8"/>
<circle cx="997.2" cy="1386.6" r="7.50" fill="#36356E" stroke="#fff" stroke-width="6.8"/>
<circle cx="1103.3" cy="1386.6" r="5.90" fill="#7E3A91" stroke="#fff" stroke-width="6.8"/>
<circle cx="1156.4" cy="1386.6" r="7.50" fill="#EC7D3F" stroke="#fff" stroke-width="6.8"/>
<circle cx="1209.5" cy="1386.6" r="11.15" fill="#F2D43E" stroke="#000" stroke-width="6.7"/>
<circle cx="1262.5" cy="1386.6" r="7.50" fill="#7D97C9" stroke="#fff" stroke-width="6.8"/>
<circle cx="997.2" cy="1411.7" r="13.80" fill="#36356E" stroke="#000" stroke-width="6.4"/>
<circle cx="1103.3" cy="1411.7" r="9.40" fill="#7E3A91" stroke="#fff" stroke-width="6.8"/>
<circle cx="1156.4" cy="1411.7" r="5.90" fill="#EC7D3F" stroke="#fff" stroke-width="6.8"/>
<circle cx="997.2" cy="1436.8" r="11.00" fill="#36356E" stroke="#fff" stroke-width="6.8"/>
<circle cx="1050.2" cy="1436.8" r="5.90" fill="#3F8B4A" stroke="#fff" stroke-width="6.8"/>
<circle cx="1156.4" cy="1436.8" r="12.05" fill="#EC7D3F" stroke="#000" stroke-width="6.3"/>
<circle cx="1209.5" cy="1436.8" r="10.10" fill="#F2D43E" stroke="#fff" stroke-width="6.8"/>
<circle cx="1315.6" cy="1436.8" r="7.50" fill="#AE6CAA" stroke="#fff" stroke-width="6.8"/>
<rect x="913.0" y="139.9" width="433.6" height="1310.3" fill="none" stroke="#333" stroke-width="2.4"/>
<g stroke="#333" stroke-width="2.6">
<line x1="903.6" y1="154.7" x2="913.0" y2="154.7"/>
<line x1="903.6" y1="179.8" x2="913.0" y2="179.8"/>
<line x1="903.6" y1="205.0" x2="913.0" y2="205.0"/>
<line x1="903.6" y1="230.1" x2="913.0" y2="230.1"/>
<line x1="903.6" y1="255.3" x2="913.0" y2="255.3"/>
<line x1="903.6" y1="280.4" x2="913.0" y2="280.4"/>
<line x1="903.6" y1="305.5" x2="913.0" y2="305.5"/>
<line x1="903.6" y1="330.7" x2="913.0" y2="330.7"/>
<line x1="903.6" y1="355.8" x2="913.0" y2="355.8"/>
<line x1="903.6" y1="381.0" x2="913.0" y2="381.0"/>
<line x1="903.6" y1="406.1" x2="913.0" y2="406.1"/>
<line x1="903.6" y1="431.2" x2="913.0" y2="431.2"/>
<line x1="903.6" y1="456.4" x2="913.0" y2="456.4"/>
<line x1="903.6" y1="481.5" x2="913.0" y2="481.5"/>
<line x1="903.6" y1="506.7" x2="913.0" y2="506.7"/>
<line x1="903.6" y1="531.8" x2="913.0" y2="531.8"/>
<line x1="903.6" y1="556.9" x2="913.0" y2="556.9"/>
<line x1="903.6" y1="582.1" x2="913.0" y2="582.1"/>
<line x1="903.6" y1="607.2" x2="913.0" y2="607.2"/>
<line x1="903.6" y1="632.4" x2="913.0" y2="632.4"/>
<line x1="903.6" y1="657.5" x2="913.0" y2="657.5"/>
<line x1="903.6" y1="682.6" x2="913.0" y2="682.6"/>
<line x1="903.6" y1="707.8" x2="913.0" y2="707.8"/>
<line x1="903.6" y1="732.9" x2="913.0" y2="732.9"/>
<line x1="903.6" y1="758.1" x2="913.0" y2="758.1"/>
<line x1="903.6" y1="783.2" x2="913.0" y2="783.2"/>
<line x1="903.6" y1="808.3" x2="913.0" y2="808.3"/>
<line x1="903.6" y1="833.5" x2="913.0" y2="833.5"/>
<line x1="903.6" y1="858.6" x2="913.0" y2="858.6"/>
<line x1="903.6" y1="883.8" x2="913.0" y2="883.8"/>
<line x1="903.6" y1="908.9" x2="913.0" y2="908.9"/>
<line x1="903.6" y1="934.0" x2="913.0" y2="934.0"/>
<line x1="903.6" y1="959.2" x2="913.0" y2="959.2"/>
<line x1="903.6" y1="984.3" x2="913.0" y2="984.3"/>
<line x1="903.6" y1="1009.5" x2="913.0" y2="1009.5"/>
<line x1="903.6" y1="1034.6" x2="913.0" y2="1034.6"/>
<line x1="903.6" y1="1059.7" x2="913.0" y2="1059.7"/>
<line x1="903.6" y1="1084.9" x2="913.0" y2="1084.9"/>
<line x1="903.6" y1="1110.0" x2="913.0" y2="1110.0"/>
<line x1="903.6" y1="1135.2" x2="913.0" y2="1135.2"/>
<line x1="903.6" y1="1160.3" x2="913.0" y2="1160.3"/>
<line x1="903.6" y1="1185.4" x2="913.0" y2="1185.4"/>
<line x1="903.6" y1="1210.6" x2="913.0" y2="1210.6"/>
<line x1="903.6" y1="1235.7" x2="913.0" y2="1235.7"/>
<line x1="903.6" y1="1260.9" x2="913.0" y2="1260.9"/>
<line x1="903.6" y1="1286.0" x2="913.0" y2="1286.0"/>
<line x1="903.6" y1="1311.1" x2="913.0" y2="1311.1"/>
<line x1="903.6" y1="1336.3" x2="913.0" y2="1336.3"/>
<line x1="903.6" y1="1361.4" x2="913.0" y2="1361.4"/>
<line x1="903.6" y1="1386.6" x2="913.0" y2="1386.6"/>
<line x1="903.6" y1="1411.7" x2="913.0" y2="1411.7"/>
<line x1="903.6" y1="1436.8" x2="913.0" y2="1436.8"/>
<line x1="944.1" y1="1450.2" x2="944.1" y2="1460.5"/>
<line x1="997.2" y1="1450.2" x2="997.2" y2="1460.5"/>
<line x1="1050.2" y1="1450.2" x2="1050.2" y2="1460.5"/>
<line x1="1103.3" y1="1450.2" x2="1103.3" y2="1460.5"/>
<line x1="1156.4" y1="1450.2" x2="1156.4" y2="1460.5"/>
<line x1="1209.5" y1="1450.2" x2="1209.5" y2="1460.5"/>
<line x1="1262.5" y1="1450.2" x2="1262.5" y2="1460.5"/>
<line x1="1315.6" y1="1450.2" x2="1315.6" y2="1460.5"/>
</g>
<text x="954.3" y="1463.0" font-size="29" text-anchor="end" textLength="106.4" lengthAdjust="spacingAndGlyphs" transform="rotate(-90 954.3 1463.0)">cDC−like</text>
<text x="1007.4" y="1463.0" font-size="29" text-anchor="end" textLength="115.2" lengthAdjust="spacingAndGlyphs" transform="rotate(-90 1007.4 1463.0)">GMP−like</text>
<text x="1060.4" y="1463.0" font-size="29" text-anchor="end" textLength="110.8" lengthAdjust="spacingAndGlyphs" transform="rotate(-90 1060.4 1463.0)">HSC−like</text>
<text x="1113.5" y="1463.0" font-size="29" text-anchor="end" textLength="102.0" lengthAdjust="spacingAndGlyphs" transform="rotate(-90 1113.5 1463.0)">IMP−like</text>
<text x="1166.6" y="1463.0" font-size="29" text-anchor="end" textLength="107.8" lengthAdjust="spacingAndGlyphs" transform="rotate(-90 1166.6 1463.0)">MkP−like</text>
<text x="1219.7" y="1463.0" font-size="29" text-anchor="end" textLength="121.1" lengthAdjust="spacingAndGlyphs" transform="rotate(-90 1219.7 1463.0)">Mono−like</text>
<text x="1272.7" y="1463.0" font-size="29" text-anchor="end" textLength="217.1" lengthAdjust="spacingAndGlyphs" transform="rotate(-90 1272.7 1463.0)">Proliferative mixed</text>
<text x="1325.8" y="1463.0" font-size="29" text-anchor="end" textLength="60.1" lengthAdjust="spacingAndGlyphs" transform="rotate(-90 1325.8 1463.0)">T/NK</text>
<text x="963.0" y="52.3" font-size="29.6" textLength="283.0" lengthAdjust="spacingAndGlyphs">mutated cells number</text>
<defs><clipPath id="lc"><rect x="960" y="50" width="175.4" height="60"/><rect x="1140" y="50" width="60" height="60"/></clipPath></defs>
<g fill="none" stroke="#000" clip-path="url(#lc)">
<circle cx="991.4" cy="79.4" r="10.25" stroke-width="6.1"/>
<circle cx="1032.6" cy="79.4" r="12.80" stroke-width="5.8"/>
<circle cx="1073.7" cy="79.4" r="14.65" stroke-width="5.7"/>
<circle cx="1118.7" cy="79.4" r="16.45" stroke-width="5.9"/>
<circle cx="1163.9" cy="79.4" r="17.30" stroke-width="6.6"/>
</g>
<text x="988.7" y="120.0" font-size="18.9" text-anchor="middle">25</text>
<text x="1032.0" y="120.0" font-size="18.9" text-anchor="middle">50</text>
<text x="1077.7" y="120.0" font-size="18.9" text-anchor="middle">75</text>
<text x="1118.8" y="120.0" font-size="18.9" text-anchor="middle">100</text>
<text x="1167.0" y="120.0" font-size="18.9" text-anchor="middle">125</text>
<text x="912.0" y="34.4" font-size="46" font-weight="bold" fill="#231F20">b</text>
<defs>
<filter id="spk" x="-8%" y="-8%" width="116%" height="116%" color-interpolation-filters="sRGB">
  <feGaussianBlur in="SourceAlpha" stdDeviation="2.2" result="b"/>
  <feTurbulence type="fractalNoise" baseFrequency="0.9" numOctaves="2" seed="3" result="n"/>
  <feComposite in="b" in2="n" operator="arithmetic" k1="0" k2="1" k3="-1" k4="0.5" result="d"/>
  <feComponentTransfer in="d" result="m"><feFuncA type="discrete" tableValues="0 1"/></feComponentTransfer>
  <feFlood flood-color="#C4C5C8"/>
  <feComposite in2="m" operator="in"/>
</filter>
<filter id="rsp" x="-8%" y="-8%" width="116%" height="116%" color-interpolation-filters="sRGB">
  <feGaussianBlur in="SourceAlpha" stdDeviation="1.2" result="b"/>
  <feTurbulence type="fractalNoise" baseFrequency="0.6" numOctaves="2" seed="11" result="n"/>
  <feComposite in="b" in2="n" operator="arithmetic" k1="0" k2="1" k3="-1" k4="0.5" result="d"/>
  <feComponentTransfer in="d" result="m"><feFuncA type="discrete" tableValues="0 1"/></feComponentTransfer>
  <feFlood flood-color="#B9232A"/>
  <feComposite in2="m" operator="in"/>
</filter>
<radialGradient id="hg"><stop offset="0" stop-opacity="0.6"/><stop offset="0.5" stop-opacity="0.62"/><stop offset="0.8" stop-opacity="0.68"/><stop offset="1" stop-opacity="1"/></radialGradient>
<radialGradient id="rg1"><stop offset="0" stop-opacity="0.902"/><stop offset="0.3" stop-opacity="0.778"/><stop offset="0.5" stop-opacity="0.657"/><stop offset="0.65" stop-opacity="0.572"/><stop offset="0.75" stop-opacity="0.515"/><stop offset="0.85" stop-opacity="0.456"/><stop offset="0.93" stop-opacity="0.407"/><stop offset="1.0" stop-opacity="0.000"/></radialGradient><radialGradient id="rg2"><stop offset="0" stop-opacity="0.635"/><stop offset="0.3" stop-opacity="0.628"/><stop offset="0.5" stop-opacity="0.589"/><stop offset="0.65" stop-opacity="0.534"/><stop offset="0.75" stop-opacity="0.488"/><stop offset="0.85" stop-opacity="0.437"/><stop offset="0.93" stop-opacity="0.392"/><stop offset="1.0" stop-opacity="0.000"/></radialGradient><radialGradient id="rg3"><stop offset="0" stop-opacity="0.516"/><stop offset="0.3" stop-opacity="0.514"/><stop offset="0.5" stop-opacity="0.496"/><stop offset="0.65" stop-opacity="0.464"/><stop offset="0.75" stop-opacity="0.432"/><stop offset="0.85" stop-opacity="0.392"/><stop offset="0.93" stop-opacity="0.354"/><stop offset="1.0" stop-opacity="0.000"/></radialGradient><radialGradient id="rg4"><stop offset="0" stop-opacity="0.439"/><stop offset="0.3" stop-opacity="0.437"/><stop offset="0.5" stop-opacity="0.426"/><stop offset="0.65" stop-opacity="0.403"/><stop offset="0.75" stop-opacity="0.378"/><stop offset="0.85" stop-opacity="0.346"/><stop offset="0.93" stop-opacity="0.314"/><stop offset="1.0" stop-opacity="0.000"/></radialGradient><radialGradient id="rg5"><stop offset="0" stop-opacity="0.474"/><stop offset="0.3" stop-opacity="0.472"/><stop offset="0.5" stop-opacity="0.458"/><stop offset="0.65" stop-opacity="0.431"/><stop offset="0.75" stop-opacity="0.404"/><stop offset="0.85" stop-opacity="0.368"/><stop offset="0.93" stop-opacity="0.334"/><stop offset="1.0" stop-opacity="0.000"/></radialGradient><radialGradient id="rg6"><stop offset="0" stop-opacity="0.692"/><stop offset="0.3" stop-opacity="0.679"/><stop offset="0.5" stop-opacity="0.622"/><stop offset="0.65" stop-opacity="0.554"/><stop offset="0.75" stop-opacity="0.502"/><stop offset="0.85" stop-opacity="0.447"/><stop offset="0.93" stop-opacity="0.400"/><stop offset="1.0" stop-opacity="0.000"/></radialGradient><g id="umsrc"><path fill-opacity="0.5" d="M590 170 650 260 700 330 760 372 745 430 700 470 610 470 600 330Z"/><path fill-opacity="0.44" d="M605 470 700 470 712 540 718 650 745 745 760 790 700 790 620 760 598 700 598 560Z"/><path fill-opacity="0.455" d="M205 680 330 700 410 745 520 745 598 700 640 760 620 800 560 800 500 840 440 870 400 880 360 840 320 800 260 790 215 740Z"/><path fill-opacity="0.42" d="M9 241 97 260 123 317 116 405 129 499 123 561 97 499 72 405 47 304Z"/><path fill-opacity="0.47" d="M260 760 330 770 370 800 360 850 320 830 280 815 250 800Z"/><path fill="none" stroke="#000" stroke-opacity="0.44" stroke-width="28" stroke-linejoin="round" d="M0 216 8 190 44 176 90 170 130 163 156 150 169 124 185 95 215 88 247 95 280 98 306 85 339 52 378 26 418 10 450 1 483 10 503 29 522 52 548 78 575 105 588 137 598 176 607 203 627 235 647 268 666 307 679 333 692 353 666 372 627 399 607 444 601 510 598 575 598 640 588 693 562 726 516 745 457 748 404 739 365 726 326 699 274 686 221 680 169 667 143 640 130 595 123 542 116 490 120 438 130 386 126 333 116 281 97 255 58 248 18 242 0 229ZM836 402 889 405 935 418 967 444 990 484 997 529 1000 582 997 634 990 686 970 739 935 778 882 797 823 804 784 797 758 771 745 726 735 667 719 601 712 542 719 490 745 444 791 412ZM300 804 332 824 352 856 378 889 391 922 388 954 365 980 326 994 287 997 247 984 221 954 211 915 215 869 234 837 267 810ZM418 889 457 869 503 850 535 824 575 804 607 797 620 824 607 856 588 889 548 915 503 928 457 925 427 912Z"/><path fill-rule="evenodd" d="M0 216 8 190 44 176 90 170 130 163 156 150 169 124 185 95 215 88 247 95 280 98 306 85 339 52 378 26 418 10 450 1 483 10 503 29 522 52 548 78 575 105 588 137 598 176 607 203 627 235 647 268 666 307 679 333 692 353 666 372 627 399 607 444 601 510 598 575 598 640 588 693 562 726 516 745 457 748 404 739 365 726 326 699 274 686 221 680 169 667 143 640 130 595 123 542 116 490 120 438 130 386 126 333 116 281 97 255 58 248 18 242 0 229ZM330 345a150 115 0 1 0 300 0a150 115 0 1 0 -300 0Z"/><ellipse cx="480" cy="345" rx="150" ry="115" fill="url(#hg)"/><path d="M836 402 889 405 935 418 967 444 990 484 997 529 1000 582 997 634 990 686 970 739 935 778 882 797 823 804 784 797 758 771 745 726 735 667 719 601 712 542 719 490 745 444 791 412ZM300 804 332 824 352 856 378 889 391 922 388 954 365 980 326 994 287 997 247 984 221 954 211 915 215 869 234 837 267 810ZM418 889 457 869 503 850 535 824 575 804 607 797 620 824 607 856 588 889 548 915 503 928 457 925 427 912Z"/></g></defs>
<g filter="url(#spk)"><use href="#umsrc" transform="translate(1437.0 173.5) scale(0.24650 0.24730)"/></g>
<g filter="url(#spk)"><use href="#umsrc" transform="translate(1717.0 173.5) scale(0.24570 0.24650)"/></g>
<g filter="url(#spk)"><use href="#umsrc" transform="translate(1435.0 521.3) scale(0.24600 0.24630)"/></g>
<g filter="url(#spk)"><use href="#umsrc" transform="translate(1715.5 521.3) scale(0.24710 0.24630)"/></g>
<g filter="url(#spk)"><use href="#umsrc" transform="translate(1427.5 855.9) scale(0.25210 0.25380)"/></g>
<g filter="url(#spk)"><use href="#umsrc" transform="translate(1715.4 856.7) scale(0.25310 0.25210)"/></g>
<g filter="url(#spk)"><use href="#umsrc" transform="translate(1440.4 1196.4) scale(0.25540 0.25580)"/></g>
<g filter="url(#spk)"><use href="#umsrc" transform="translate(1731.0 1196.4) scale(0.25550 0.25580)"/></g>
<path fill="none" stroke="#C1272D" stroke-linecap="round" transform="scale(0.25)" style="stroke-width:19.2px" d="M5785 914h0m16-9h0m6-12h0m12 15h0m16-9h0m93 6h0m9 6h0m22-62h0m-30 90h0m44 3h0m-89 22h0m75 18h0m40 5h0m43 0h0m-83 39h0m-51 9h0m29 11h0m279-189h0m71-25h0m-54 265h0m-316 14h0m60 24h0m45 13h0m8 11h0m-87 52h0m-63 11h0m133 31h0m95-1h0m138 0h0m-340 34h0m6 5h0m19-8h0m69 23h0m245 29h0m245-163h0m173-18h0m-115 64h0m19 14h0m10 23h0m-7 30h0m-31 9h0m85-6h0m31 5h0m28 0h0m-3 14h0m-33 4h0m-23 11h0m-124 21h0m48 30h0m62-11h0m73-9h0m27 3h0m-60 28h0m-116 11h0m-10 28h0m-26 9h0m95 11h0m54-14h0m-102 35h0m-537 95h0m-17 27h0m14 30h0m42-2h0m-46 37h0m269-87h0m-1 14h0"/>
<path fill="none" stroke="#C1272D" stroke-linecap="round" transform="scale(0.25)" style="stroke-width:19.2px" d="M6059 2193h0m-60 165h0m-29 18h0m7 0h0m14 47h0m13 15h0m23 15h0m21-12h0m-159 43h0m46-14h0m40 19h0m28 22h0m22 1h0m201-13h0m-148 48h0m65 0h0m46 42h0m20 20h0m19 2h0m-26 27h0m-122 23h0m176 15h0m-38 16h0m-47 31h0m6 16h0m-26 13h0m13 4h0m65-11h0m74 8h0m-153 62h0m413-322h0m1 43h0m49 13h0m16 15h0m34 3h0m-83 9h0m27 3h0m-15 28h0m0 13h0m31-11h0m16-2h0m32 0h0m-203 4h0m31 11h0m46-7h0m68 29h0m79 13h0m-45 21h0m-7 8h0m39 11h0m-142-7h0m12 4h0m35 35h0m37 0h0m-12 14h0m-94 23h0m67-10h0m-3 15h0m34-6h0m55-22h0m-12 10h0m15 4h0m-82 30h0m9 5h0m-24 7h0m89-13h0m17 1h0m-76 35h0m25-3h0m-21 28h0m-565 77h0m-50 35h0m66 30h0m-35 13h0m29 28h0m-37 10h0m17 3h0m254-112h0"/>
<path fill="none" stroke="#C1272D" stroke-linecap="round" transform="scale(0.25)" style="stroke-width:19.2px" d="M5738 3620h0m41 22h0m16-11h0m-43 32h0m297-71h0m-7 20h0m49 14h0m57-36h0m22-56h0m31-12h0m43 22h0m-32 26h0m16 17h0m28 1h0m18-9h0m-76 37h0m-58 33h0m166-17h0m-86 171h0m63 2h0m-5 12h0m-147 89h0m67 87h0m-44 35h0m16 32h0m40 3h0m29 5h0m9 3h0m-173 12h0m50 0h0m20 50h0m85 151h0m24 46h0"/>
<path fill="none" stroke="#C1272D" stroke-linecap="round" transform="scale(0.25)" style="stroke-width:19.2px" d="M6206 4812h0m-93 50h0m121 22h0m-103 30h0m6-9h0m44 59h0m-40 18h0m-251 33h0m398 2h0m-176 172h0m186 14h0m35-2h0m-84 37h0m-94 78h0m69 10h0m54-14h0m13 16h0m3 11h0m-68 25h0m26 2h0m32 7h0m37 13h0m-182 21h0m79-4h0m10 4h0m58 3h0m71 30h0m-173 3h0m-10 8h0m-8 4h0m52-10h0m1 16h0m47-10h0m-111 20h0m6 10h0m-2 20h0m75-23h0m36 0h0m-22 20h0m-24 7h0m7 10h0m7 10h0m26 11h0"/>
<g filter="url(#rsp)"><ellipse cx="1735.0" cy="225.9" rx="17.2" ry="8.5" fill="url(#rg1)"/><ellipse cx="1777.9" cy="238.8" rx="34.3" ry="21.4" fill="url(#rg3)"/><ellipse cx="1769.4" cy="311.8" rx="25.7" ry="25.7" fill="url(#rg2)"/><ellipse cx="1930.3" cy="341.9" rx="32.2" ry="30.1" fill="url(#rg1)"/><ellipse cx="1930.2" cy="296.8" rx="27.9" ry="20.2" fill="url(#rg4)"/><ellipse cx="1790.8" cy="389.0" rx="21.4" ry="30.1" fill="url(#rg3)"/><ellipse cx="1852.9" cy="384.8" rx="14.9" ry="12.9" fill="url(#rg3)"/><ellipse cx="1759.6" cy="273.5" rx="17.8" ry="18.6" fill="url(#rg4)"/></g>
<path fill="none" stroke="#B9232A" stroke-linecap="square" transform="scale(0.25)" style="stroke-width:6.4px" d="M7183 912h0m-98 438h0m319-277h0m-188-221h0m-100 372h0m41 54h0m-193-222h0m436-1h0m-214 134h0m-66-170h0m229 96h0m-318-220h0m-1 171h0m249 8h0m-159-146h0m31 150h0m62-126h0m-78 412h0m-119-515h0m311 343h0m-297 62h0m287-118h0m-200 39h0m112-294h0m136 149h0m-371-125h0m122 46h0m-75 170h0m54 0h0m189-88h0m-191-126h0m222-31h0m13 405h0m73-322h0m-331 52h0m183 343h0m-198-335h0m267-128h0m-308 88h0m38 168h0m353-12h0m-436-24h0m92 203h0m262-220h0m-69-9h0m120-76h0m-385 156h0m283-238h0m-295-7h0m67 326h0m269 70h0m81-244h0m-195-120h0m174 134h0m-160-245h0m-70 70h0m71 336h0m16-13h0m124-249h0m-266 220h0m244-206h0m20 36h0m-199-217h0m168 334h0m-160 201h0m-99-534h0m17 421h0m101-107h0m41 230h0m-11-391h0m-194-44h0m-33-12h0m-27 202h0m131-159h0m234 183h0m-137-369h0m-33 182h0m216-41h0m-66-13h0m-89 127h0m-12 44h0m-40 152h0m79 63h0m122-164h0m-88 169h0m37-205h0m34-113h0m-100-153h0m-171 152h0m42 61h0m131-270h0m-47 241h0m-116 212h0m240 12h0m-117-339h0m111-45h0m6 423h0m-73-301h0m-278-19h0m127 52h0m-49-154h0m220-41h0m-213 501h0m275-469h0m-147 271h0m-95-166h0m-25 233h0m-111-41h0m341 47h0m12 78h0m-65-369h0m-215 344h0m164-14h0m-115 34h0m288-54h0m-330-221h0m334 216h0m-139-46h0m-15-19h0m64-160h0m-200 369h0m0-371h0m-75 287h0m346-35h0m-146-446h0m-115 115h0m251 265h0m-171-232h0m-25 376h0m100-137h0m-15-344h0m162 136h0m-199-90h0m-101 93h0m86-173h0m-45 69h0m-93 356h0m364-83h0m-400-115h0m-56-28h0m362-16h0m5 311h0m-48-219h0m-20-49h0m140 229h0m-139-84h0m-242-189h0m159-43h0m106 64h0m-98-6h0m-56 93h0m-11 156h0m24-380h0m284 326h0m-54-311h0m-192 402h0m10-90h0m172-66h0m-105 48h0m38-267h0m-30 413h0m-108-8h0m-20-6h0m-95-398h0m214 74h0m-21 179h0m198-122h0m-225 355h0m18-93h0m95-176h0m-200-95h0m71 268h0m155-410h0m-60-56h0m-206-4h0m61 376h0m39-256h0m176 10h0m-304 395h0m231-82h0m112-20h0m-432-304h0m165 415h0m-15-530h0m230 182h0m-89-96h0m-137 32h0m-163 39h0m430 200h0m51-79h0m-427 9h0m132-269h0m26 136h0m58 67h0m-251 101h0m134-102h0m-36-57h0m188 369h0m-26-79h0m-57-477h0m-227 176h0m21 149h0m298-295h0m-199 81h0m-50 87h0m151-126h0m-150 195h0m232-172h0m56-61h0m30 280h0m-33-232h0m-333 96h0m114-128h0m-11 287h0m62 102h0m-69 5h0m-33 5h0m379-276h0m-337 214h0m239-266h0m-169 70h0m128-54h0m-218 139h0m204-201h0m-65-21h0m-158 387h0m183 3h0m-109-445h0m277 368h0m-140-292h0m130 298h0m-198 157h0m-158-79h0m143 42h0m-200-261h0m285 342h0m-111-130h0m33-89h0m-27-222h0m128 277h0m-77-363h0m170 103h0m-361-73h0m170 5h0m-8 402h0m-93-205h0m-98 85h0m264-3h0m0 62h0m-24-164h0m2 132h0m-76-114h0m-71 28h0m74 251h0m114-53h0m-228-116h0m187-234h0m180-22h0m-253 78h0m-78-152h0m125 66h0m223 60h0m-128 207h0m126-59h0m-10-223h0m-395-7h0m79-49h0m286 145h0m-296 272h0m323-166h0m-285-228h0m197-29h0m-176 302h0m116 25h0m-137 102h0m186-278h0m50-84h0m-74-5h0m134 169h0m-234 116h0m65-376h0m-35 416h0m96-224h0m-157-49h0m65 10h0m-86 95h0m-184-86h0m354 178h0m-101-336h0m-101 486h0m20 35h0m-90-480h0m-12 399h0m111-380h0m311 242h0m-286-194h0m11-27h0m-119 225h0m110 28h0m52 81h0m5-93h0m-152-40h0m91 210h0m-44-246h0m251 218h0m10-113h0m-23-326h0m28 233h0m-351 198h0m281-132h0m-52-278h0m-94 264h0m-58 19h0m256 41h0m20-190h0m-286-76h0m-111-8h0m90 109h0m-50-67h0m268 331h0m-65-327h0m-260 31h0m106 173h0m-23 75h0m59-393h0m266 404h0m-113-229h0m-75 181h0m148-384h0m-1 301h0m-83 156h0m-2-247h0m26 238h0m-316-240h0m135 88h0m93-156h0m53-58h0m-48 132h0m69-58h0m-283 166h0m100-78h0m200 138h0m26-83h0m7 111h0m-251 34h0m117-136h0m-104 187h0m107-40h0m12-410h0m188 4h0m-278 458h0m83-136h0m-190-26h0m285-143h0m-137-168h0m221 450h0m-210-343h0m104 51h0m57 160h0m-84-124h0m137-102h0m2 224h0m-377-38h0m176-327h0m123 263h0m-40-189h0m-13-107h0m85 290h0m16-58h0m5-9h0m-322 274h0m31-60h0m175-78h0m-37-303h0m-118-13h0m129 410h0m-42 20h0m36-372h0m-105 428h0m128-134h0m-109-362h0m14 511h0m227-202h0m-284-120h0m-2 281h0m32-273h0m68-20h0m138 61h0m-120 171h0m145-153h0m-352-188h0m262 177h0m-257-13h0m159-146h0m37 198h0m201 34h0m-86 14h0m-142 7h0m287-14h0m-362-2h0m104-88h0m177-124h0m-45 255h0m-3-75h0m-29-8h0m-150-94h0m198 330h0m-220-94h0m282-11h0m-292-362h0m26 144h0m49 315h0m244-332h0m-352-94h0m372 209h0m-163 18h0m-172-319h0m125 61h0m-18 265h0m134-310h0m21 185h0m-61-75h0m46-40h0m-41 20h0m32-105h0m100-1h0m-107 146h0m109-93h0m-60 48h0m72-21h0m-10 36h0m-166-32h0m116 36h0m-129 28h0m20-136h0m25 48h0m56 13h0m-23-39h0m-103 74h0m91-29h0m-62 51h0m150-22h0m32-11h0m-156 49h0m37 36h0m83 9h0m29-127h0m-196 47h0m85 83h0m3-6h0m-24-19h0m74-96h0m6-72h0m-85 136h0m110-24h0m-85-54h0m-31-79h0m77 57h0m37 39h0m24-75h0m-143 23h0m92 147h0m-39-42h0m88 37h0m-36-102h0m23 27h0m-28 35h0m-106-80h0m19 64h0m17-81h0m-34 107h0m119-85h0m-64-33h0m74 20h0m-177 44h0m98-30h0m99 128h0m-14-82h0m-52-16h0m15 53h0m43-5h0m-131-82h0m145 109h0m-56-159h0m28 158h0m-115-129h0m107 1h0m-93 55h0m-58-39h0m93-20h0m112 57h0m-176 42h0m81-88h0m-77-30h0m-48 69h0m32 29h0m57 99h0m-16-21h0m-59-30h0m121-72h0m77 4h0m-19 42h0m10-11h0m-58 41h0m-62 22h0m85-199h0m-97 190h0m120-79h0m-34-13h0m27-63h0m-99 178h0m1 9h0m66-93h0m-37-104h0m54 154h0m-81 17h0m23-203h0m93 150h0m-5-44h0m-79-29h0m61-29h0m18-4h0m-64 49h0m-32-32h0m5 124h0m-75-123h0m95 47h0m13 76h0m12-154h0m-146 76h0m71-47h0m109 99h0m-2-110h0m8 93h0m-149 36h0m-32-126h0m61 130h0m-46-143h0m65-6h0m57 3h0m30 64h0m15 96h0m-112 28h0m-35-165h0m162 113h0m18-8h0m-63-97h0m32 132h0m-124-78h0m-18-5h0m-22 53h0m179-110h0m-50 129h0m-169-67h0m199 40h0m-9-86h0m-74 132h0m-44 16h0m100-79h0m42 24h0m-122 60h0m125-187h0m-94 77h0m-92 76h0m95-109h0m-38-83h0m138 92h0m-29-65h0m-98 116h0m18-75h0m-341 344h0m93-103h0m34 21h0m-99 54h0m78 31h0m-48-74h0m42-72h0m-74-33h0m51 104h0m-38-10h0m-15-81h0m66 98h0m-13-43h0m-38 20h0m45-13h0m-75 68h0m33-167h0m10 45h0m59 121h0m-46-51h0m-5-48h0m-56 73h0m34-94h0m7-11h0m-28 122h0m-1-36h0m41 45h0m-39-23h0m73-122h0m-68 178h0m69-124h0m-83 15h0m4-70h0m90 191h0m-81-188h0m-12 8h0m17 180h0m24-5h0m-9-138h0m75 91h0m-39-135h0m-49 185h0m79-40h0m-86-32h0m26-102h0m6 8h0m48 123h0m-98-131h0m65 64h0m-8-44h0m-20-9h0m-8 150h0m-17-156h0m-6 146h0m13 12h0m-21-56h0m106-14h0m-44 66h0m46-31h0m-20-91h0m12 106h0m3 24h0m-17-32h0m-58-50h0m9 57h0m0-179h0m-26 204h0m79-11h0m-73-46h0m65-123h0m-2 146h0m5-162h0m32 102h0m-85-36h0m-19 117h0m77-101h0m-45 41h0m-8-89h0m27 21h0m-43-29h0m1 98h0m-21 49h0m61-26h0m-43-21h0m56-120h0m43 68h0m-84-5h0m48-52h0m-30-8h0m21 44h0m-44-20h0m2 139h0m52 12h0m-62-13h0m69-141h0m-68-29h0m42 198h0m29-44h0m-19-54h0m-17-104h0m-70 109h0m25 33h0m9-29h0m18 66h0m58-69h0m-34 124h0m38-26h0m-11-172h0m-66 103h0m48 1h0m-46 39h0m76-106h0m15 36h0m-30 79h0m-25-52h0m32-46h0m-32 62h0m-38-106h0m92 77h0m-65 102h0m588 55h0m-8 31h0m209-51h0m-31 65h0m-75 4h0m16 28h0m83-127h0m-41-84h0m-93 231h0m-32-70h0m-33 41h0m154-33h0m-159-25h0m36-146h0m106 175h0m-65 43h0m14-123h0m-23 190h0m118-225h0m-128 156h0m-34-218h0m47 197h0m76-68h0m12-119h0m-26 115h0m-106 127h0m57-165h0m-64 127h0m49-201h0m78 284h0m-149-136h0m68-44h0m37 58h0m18 31h0m-81-24h0m-12 74h0m112-120h0m-7-135h0m-92 163h0m3-59h0m127-108h0m-79 157h0m60-92h0m-115-78h0m-50 156h0m52 11h0m-10-10h0m103 46h0m-94 26h0m178-134h0m-12 16h0m-132-54h0m24 94h0m37-92h0m29 135h0m-108 92h0m106-139h0m32-107h0m-155 3h0m83 273h0m-13-305h0m24 206h0m-82 1h0m125-29h0m-136-13h0m9 39h0m-16 31h0m14-100h0m81-130h0m-127 169h0m140-182h0m-47 69h0m-11-17h0m18 154h0m-12-49h0m-46-150h0m67 68h0m-79-66h0m125 150h0m-63 108h0m52-5h0m-98 4h0m-45-155h0m103 187h0m107-81h0m-167-121h0m-24 99h0m20-64h0m55 122h0m22-233h0m66 151h0m-77-10h0m62-34h0m-139-12h0m184 84h0m-62-89h0m-115 87h0m116 75h0m-58-153h0m19 155h0m-34-243h0m-85 164h0m171-40h0m-94 166h0m34-140h0m-90 35h0m151 65h0m-30 8h0m27 1h0m-29 3h0m1-232h0m46 159h0m-165-78h0m102-125h0m-103 127h0m11 31h0m111 52h0m-41 6h0m14-153h0m16 191h0m-48-46h0m-38 10h0m111-191h0m-126 133h0m85 145h0m43-146h0m-101-156h0m28 298h0m-59-99h0m179 17h0m-36-24h0m31-167h0m-91 129h0m-32-19h0m40-18h0m-36 79h0m113-64h0m17 70h0m-133-185h0m89-35h0m-113 291h0m141-215h0m-159 205h0m139-180h0m31 128h0m-130-167h0m-32 35h0m126-11h0m-55 90h0m-76 118h0m-354 72h0m-10-42h0m-62 55h0m195-20h0m-112-54h0m-152-5h0m80-7h0m-32 52h0m48 5h0m165-58h0m-244 73h0m1-38h0m-9 48h0m30-10h0m173-51h0m-73-8h0m-40-36h0m113 3h0m-141-7h0m21 103h0m36-26h0m-158 2h0m233-31h0m-131 66h0m170-88h0m-189 70h0m119-69h0m0-19h0m-176 87h0m52-63h0m-74 18h0m82 4h0m243 2h0m-7 17h0m-241-18h0m118-33h0m-92-18h0m-1 52h0m108-43h0m14 29h0"/>
<g filter="url(#rsp)"><ellipse cx="1929.6" cy="670.2" rx="34.6" ry="51.5" fill="url(#rg1)"/><ellipse cx="1832.2" cy="675.8" rx="28.2" ry="31.4" fill="url(#rg2)"/><ellipse cx="1773.4" cy="616.3" rx="24.2" ry="38.6" fill="url(#rg4)"/><ellipse cx="1788.7" cy="748.3" rx="20.1" ry="18.5" fill="url(#rg2)"/><ellipse cx="1853.9" cy="733.8" rx="8.1" ry="8.1" fill="url(#rg3)"/></g>
<path fill="none" stroke="#B9232A" stroke-linecap="square" transform="scale(0.25)" style="stroke-width:6.4px" d="M7123 2221h0m-96 319h0m57-99h0m17 114h0m99-4h0m-130 8h0m23-287h0m-89 71h0m-56 9h0m130 236h0m-6-223h0m129 24h0m-106 234h0m47-361h0m-10 131h0m-178 0h0m248-57h0m-192 6h0m-28 11h0m230-42h0m-134-101h0m142 296h0m-265-35h0m104 103h0m45-185h0m-42 190h0m78-247h0m-14-6h0m-75 259h0m-46-333h0m144 97h0m-62-102h0m-104 310h0m197-224h0m-40 53h0m21 211h0m-113-9h0m-19-160h0m65-196h0m47 285h0m-2-295h0m30 88h0m-151 228h0m123 30h0m-43-52h0m-37-51h0m-103-4h0m229-153h0m-11 28h0m-60-24h0m-183 77h0m64-56h0m114-29h0m-10 96h0m-6 121h0m-12 124h0m94-200h0m-207-104h0m135-53h0m13 343h0m2-165h0m-16 118h0m115-226h0m-235 5h0m62-104h0m19 226h0m69 131h0m-139-340h0m242 209h0m-261 88h0m16-240h0m151-69h0m-82 83h0m-47-3h0m129 120h0m-134-23h0m87-93h0m155 98h0m-205 129h0m63-49h0m-135 16h0m259-66h0m-22-60h0m-170 94h0m87 33h0m-32-127h0m24-169h0m13 186h0m-55-191h0m-46 377h0m85-50h0m71-23h0m-39-70h0m-47-208h0m-84-6h0m16 102h0m39-10h0m4 222h0m53-101h0m-119-207h0m10 261h0m100 54h0m-167-262h0m285 160h0m-54-62h0m-117-195h0m-28 104h0m-58-49h0m196 245h0m59-68h0m-140-77h0m-10-140h0m85 304h0m-116-238h0m-125 116h0m84-115h0m127 152h0m31-188h0m-20 9h0m-167 72h0m96-54h0m-31 40h0m87 100h0m17 178h0m-93-380h0m-20 216h0m-98 21h0m19-56h0m84 72h0m-35-174h0m32 207h0m16-214h0m-42 67h0m75-86h0m-156 168h0m126-219h0m-51 364h0m-42-27h0m224-259h0m-45-34h0m-65 66h0m150 65h0m-94 101h0m-175-176h0m219 267h0m-185 8h0m93-343h0m-34 211h0m141 40h0m-86-306h0m-126 376h0m58 46h0m101-253h0m31-102h0m-130-52h0m-57 353h0m153-208h0m-41-65h0m17 209h0m-105-145h0m79 124h0m-67 106h0m175-155h0m-139-52h0m-13 237h0m190-214h0m-80 180h0m-132-144h0m-90-3h0m226-124h0m68 181h0m-26-96h0m-96 178h0m-56-312h0m-11 237h0m38-41h0m5 171h0m143-210h0m-113-149h0m-87 80h0m-4-106h0m56 8h0m158 119h0m-267-43h0m95 298h0m-69-385h0m55 385h0m131-116h0m-39-38h0m-50-120h0m-56 124h0m80-119h0m-105 231h0m25-353h0m77 173h0m-95-166h0m69-23h0m43 219h0m-24-203h0m-19 196h0m-46-36h0m47-117h0m18 66h0m-68 68h0m73-168h0m-7 386h0m-54-340h0m99 10h0m22 66h0m-42 38h0m-49-116h0m-106 204h0m187-52h0m37 87h0m-89 39h0m-58-60h0m143-160h0m-185-90h0m115 49h0m61 177h0m-85-44h0m100-115h0m-163 129h0m60-207h0m65 363h0m74-265h0m-93-79h0m-95 318h0m114-28h0m-56-134h0m-38-139h0m-26-60h0m111 36h0m10 2h0m62 56h0m-56 126h0m-142 41h0m128 116h0m1-174h0m-63-121h0m-13 328h0m17-372h0m46 239h0m88-112h0m-20 104h0m-220 54h0m81-57h0m103-62h0m11-179h0m-154-15h0m89 305h0m96-259h0m-261 202h0m279-161h0m-183 266h0m-48-77h0m2-69h0m222-5h0m-189-218h0m94 285h0m-173-214h0m57 141h0m-59-141h0m234-34h0m-173 219h0m168-207h0m-39 32h0m-77 221h0m124-265h0m-208 314h0m22-54h0m10-146h0m60 159h0m2 46h0m122-44h0m-66 16h0m-86-199h0m-64 157h0m-43-158h0m157-10h0m47-68h0m-88 63h0m-104 114h0m175-226h0m-12 395h0m31-317h0m71 13h0m-97-27h0m-101 113h0m74-196h0m65 377h0m-84-205h0m107-37h0m-100 116h0m22-167h0m-89 120h0m-9-80h0m125-84h0m-60 61h0m154 194h0m199-120h0m0-26h0m-322-1h0m21 306h0m140 30h0m-75-210h0m-62 109h0m-47-323h0m-3 44h0m59 66h0m-70 314h0m272-253h0m149 67h0m-125-215h0m-46-33h0m24 137h0m-303 180h0m244 176h0m-63 4h0m73-468h0m148 182h0m-203-30h0m164 223h0m26-266h0m-138 48h0m134-149h0m-304 37h0m81 0h0m-71-80h0m-21 192h0m242 43h0m-55-130h0m55 200h0m-310-102h0m366-178h0m67 149h0m-330 96h0m211-79h0m-214-73h0m143-17h0m-153 204h0m235-267h0m-228 63h0m205 399h0m-86-542h0m172 270h0m-105 231h0m-130-2h0m-144-163h0m391-199h0m-405 286h0m346-366h0m-377 121h0m148 102h0m55 253h0m-93-114h0m29-63h0m140-42h0m-116-201h0m-171 245h0m77-290h0m182-107h0m126 395h0m21-150h0m-62 24h0m122 157h0m-382 9h0m267-180h0m48 19h0m-157 195h0m-177-181h0m218-22h0m53 82h0m-276-210h0m-21 208h0m178-67h0m29 356h0m-128-314h0m242-5h0m-195 190h0m-106-114h0m135-69h0m19 305h0m244-267h0m-432-7h0m137 130h0m-167-203h0m209 116h0m271-11h0m-270 30h0m-160-271h0m113 95h0m-29 167h0m362-60h0m-343-3h0m283-242h0m-139 63h0m16 366h0m-277-368h0m449 88h0m-348 269h0m240-43h0m-55-117h0m25 76h0m-182 129h0m156-202h0m-194-269h0m64-45h0m-46 60h0m96 113h0m56 361h0m14-50h0m-77-8h0m116-437h0m-232 283h0m197-303h0m-294 356h0m133-408h0m-35 35h0m-81 178h0m51-213h0m-30 12h0m51 6h0m-42 6h0m33-27h0m-7-7h0m-19 32h0m13 7h0m11 4h0m-5-27h0m-9 3h0m7-5h0m-16-12h0m13 31h0m-7-19h0m18-14h0m-15 33h0m-16-36h0m7 38h0m-22-10h0m1-14h0m13-12h0m-11 21h0m-1-1h0m35 16h0m275 344h0m12-46h0m-105 84h0m41-85h0m-35 220h0m-1-112h0m87 22h0m-146-99h0m106 85h0m-75-69h0m-50 99h0m220-103h0m-110 54h0m57 88h0m-23-91h0m-116 3h0m25 44h0m48 26h0m84-4h0m-179-22h0m23-133h0m15 199h0m-13-33h0m105-146h0m-124 111h0m169 26h0m-21-26h0m-142-123h0m157 88h0m-10 74h0m-130-45h0m87-136h0m-107 69h0m2-14h0m205-2h0m5 39h0m-50 69h0m-54-122h0m-38 50h0m47 97h0m53-43h0m-61 83h0m-48-46h0m64-164h0m26 110h0m-101-55h0m45 138h0m-68-99h0m-29-40h0m161 54h0m-108 97h0m115-89h0m-35 77h0m-25-130h0m58-53h0m-45 202h0m-56-10h0m109-71h0m-200-44h0m171-77h0m31 108h0m-171 64h0m56-165h0m-40 159h0m171-18h0m-137-141h0m21-4h0m72 144h0m-16-53h0m-144 31h0m134 44h0m90-103h0m-30-46h0m-169 9h0m12 0h0m31 101h0m112-17h0m-60-126h0m48 194h0m60-67h0m-176-111h0m-44 140h0m116-61h0m-86-9h0m-7 63h0m200-20h0m-141-71h0m11-57h0m-36-8h0m87 99h0m45 1h0m-65 77h0m-104 16h0m47-96h0m13-84h0m31 63h0m70-66h0m8 96h0m-21 60h0m35 0h0"/>
<g filter="url(#rsp)"><ellipse cx="1735.1" cy="910.1" rx="20.9" ry="10.0" fill="url(#rg1)"/><ellipse cx="1825.2" cy="891.7" rx="42.6" ry="24.2" fill="url(#rg6)"/><ellipse cx="1848.6" cy="959.4" rx="16.7" ry="15.9" fill="url(#rg1)"/><ellipse cx="1834.4" cy="988.6" rx="25.0" ry="16.7" fill="url(#rg3)"/><ellipse cx="1832.7" cy="1022.8" rx="26.7" ry="20.4" fill="url(#rg1)"/><ellipse cx="1847.8" cy="1076.2" rx="17.5" ry="14.2" fill="url(#rg2)"/></g>
<path fill="none" stroke="#B9232A" stroke-linecap="square" transform="scale(0.25)" style="stroke-width:6.4px" d="M7305 4044h0m-166-341h0m135 393h0m71-227h0m-214 155h0m32-121h0m-137-171h0m145-86h0m41 215h0m-188-72h0m-35 144h0m299 143h0m-114-503h0m157 199h0m32-22h0m-249-163h0m-53 126h0m337 214h0m-168 82h0m-189 17h0m40-374h0m205 319h0m-2-205h0m96 15h0m-300 181h0m-22-61h0m-26 41h0m172 5h0m-52-80h0m-100 31h0m187-154h0m-197 240h0m57 68h0m112-274h0m-157 218h0m-39-200h0m414 24h0m-432-60h0m200 86h0m-4 202h0m215-284h0m-240 343h0m-45-194h0m-43-133h0m304 207h0m-253-411h0m248 461h0m-121-338h0m-237 164h0m167 56h0m86-182h0m-221 108h0m323-131h0m-378 247h0m93 64h0m152 52h0m-20-498h0m-121 268h0m-45-210h0m151 234h0m110 212h0m-38-246h0m136 151h0m-352 2h0m111-334h0m27-11h0m-117 149h0m331 43h0m-208 144h0m123-263h0m51 250h0m-220-150h0m-57 194h0m69 96h0m101-464h0m-13 164h0m-3 291h0m-143-271h0m-91-96h0m152 66h0m201 77h0m-84-33h0m-178-153h0m309 280h0m-366 59h0m7-334h0m-30 246h0m190 36h0m76-231h0m-247 248h0m92-10h0m171-218h0m-84 333h0m-36-105h0m129-266h0m124 102h0m-161-104h0m-24 347h0m10-356h0m-21 251h0m73 6h0m-308-143h0m305 46h0m-6 56h0m-2 152h0m-162-175h0m-60-314h0m182 22h0m-172 341h0m42 115h0m132-424h0m74 12h0m-184 39h0m58 268h0m187-265h0m-8-19h0m-129-24h0m-46 60h0m-40 66h0m262-8h0m-119 268h0m-90-263h0m-174-22h0m-25-106h0m156 52h0m-159 56h0m271 78h0m-160 85h0m84 138h0m150-276h0m-301-148h0m39-7h0m332 203h0m-179 99h0m-251-114h0m199-139h0m184 77h0m-92-86h0m-72 174h0m-131-154h0m-29 200h0m211 115h0m-83 91h0m115-16h0m-8-383h0m-73-77h0m-251 265h0m279-164h0m-18 82h0m139 35h0m-229 166h0m-119-148h0m375-172h0m-281 271h0m14-227h0m-111 242h0m398-130h0m-239-183h0m18 380h0m-67 38h0m-54-328h0m189-120h0m40 337h0m-356-115h0m173 152h0m237-197h0m-127-50h0m-123 152h0m226-214h0m-125 223h0m-85-42h0m-146-20h0m177 85h0m-28-20h0m110-159h0m-52-90h0m-21-82h0m176 427h0m34-254h0m-269-55h0m189 341h0m-51-330h0m65 224h0m-222-230h0m328 65h0m-50-53h0m-161-164h0m178 320h0m-100 184h0m-63 9h0m-126-43h0m-3-438h0m222 108h0m-158 22h0m216 248h0m8-271h0m-384 111h0m177-187h0m-129 406h0m-12-1h0m234-433h0m57-3h0m53 228h0m-335 180h0m353-211h0m-148 53h0m-269 47h0m338-167h0m-299 89h0m187 27h0m-185-34h0m250-61h0m8-27h0m-286 60h0m358 273h0m90-288h0m-38 75h0m-317-234h0m141 325h0m20-228h0m23 168h0m-184-196h0m111-90h0m248 257h0m-67-191h0m-160 14h0m-15 440h0m-159-174h0m89-315h0m-3 13h0m-152 195h0m119 101h0m299-227h0m-217 26h0m255 189h0m-110-127h0m-148 23h0m-143 174h0m20 47h0m227-247h0m-139-105h0m127 307h0m-67-168h0m236 117h0m-423-173h0m46 280h0m-43-280h0m183 323h0m21-146h0m-211-248h0m152 296h0m154 27h0m-105-274h0m-193 53h0m327 172h0m-161-3h0m92-132h0m-187 192h0m83-163h0m111-123h0m-289 242h0m444-191h0m-424 179h0m251-229h0m14 84h0m-147-98h0m88 217h0m65-138h0m3-24h0m-144 173h0m133-119h0m12-112h0m121 46h0m-226 272h0m102-48h0m120-114h0m-316-119h0m355 104h0m-142 91h0m52-86h0m-306 91h0m94 7h0m87-270h0m-118 315h0m55 66h0m157-157h0m-238-12h0m195-209h0m-234 233h0m210-207h0m60-125h0m-128 355h0m45-267h0m-24 230h0m-196-256h0m329 32h0m-376 250h0m100-336h0m53 15h0m53 122h0m26 167h0m231-187h0m-309 47h0m199 200h0m-207-53h0m260 41h0m-157-188h0m-67 211h0m-140-200h0m-9 196h0m92-41h0m132-354h0m51 176h0m-19 260h0m139-225h0m-299-67h0m212 105h0m-302-77h0m278-151h0m-184 331h0m287-122h0m-206 128h0m95-346h0m-219 170h0m8-160h0m-64 117h0m362-48h0m-270 175h0m30-251h0m173 216h0m151 105h0m-63-215h0m-69-27h0m132 94h0m23 124h0m-130 50h0m79-55h0m-7-12h0m-110-179h0m2-158h0m43 209h0m77-9h0m-112 199h0m-3-279h0m-41 192h0m30-41h0m-1 53h0m43 117h0m-59-224h0m55-230h0m-16 112h0m86 97h0m-10-136h0m-127 327h0m24-385h0m107 163h0m-150 61h0m202 108h0m-20-109h0m-12 107h0m-93 24h0m-71-19h0m9-129h0m128 68h0m49-95h0m-2-2h0m-143-123h0m100 215h0m-75-4h0m28 83h0m-18 56h0m6-24h0m-81-130h0m239 52h0m-246 41h0m149-111h0m71 154h0m-208-21h0m91-214h0m-36 202h0m-61-53h0m31-46h0m57-164h0m3-37h0m-38 193h0m94 232h0m-113-333h0m97-180h0m52 500h0m32-216h0m-110 121h0m-98-133h0m0 84h0m156-127h0m-44 254h0m-72-135h0m-48-90h0m145-143h0m26 393h0m-57-12h0m-46-483h0m-23 11h0m91 260h0m10 181h0m-68-164h0m64 167h0m-126-63h0m-27-87h0m128-251h0m-44 298h0m18 61h0m-16-71h0m-7-75h0m111-169h0m-4 244h0m-65 20h0m-55-96h0m122 177h0m-164-93h0m6-61h0m60 132h0m-45-150h0m108-143h0m-16 285h0m13-414h0m-101 185h0m2-138h0m77 434h0m-26-398h0m85 342h0m-44-8h0m-146-241h0m148 137h0m-148-127h0m228 131h0m-5-29h0m-18 119h0m-149 19h0m68-97h0m31 57h0m1-26h0m-115-159h0m128-125h0m-152 118h0m171-112h0m26 214h0m13 0h0m-11 38h0m-18 128h0m-92-351h0m-44 53h0m60 231h0m113-120h0m-56 32h0m-143-90h0m-14-91h0m36-15h0m31 327h0m137-203h0m-225 55h0m156-14h0m-12-10h0m82-1h0m-36 147h0m-74-190h0m55-72h0m-121 47h0m28 204h0m134-144h0m-95 162h0m48-28h0m-82-403h0m82 511h0m-72-306h0m157 84h0m-121 66h0m-67-286h0m137 74h0m-103 268h0m59 68h0m6-244h0m-96 138h0m130-124h0m-88-248h0m1 530h0m16-492h0m25 364h0m77 19h0m-87-235h0m-75 52h0m71-186h0m97 131h0m-42 182h0m-178-225h0m73 211h0m26 49h0m58-1h0m-44 65h0m54-22h0m-78-276h0m-35 72h0m9 146h0m75-245h0m-124 71h0m37 290h0m24-97h0m5-323h0m24 75h0m77 301h0m-163-25h0m101-31h0m46-264h0m-4 211h0m-40-227h0m-123 55h0m26-67h0m161 133h0m-2-124h0m-56 244h0m-38-6h0m37-299h0m107 279h0m-193-178h0m131 255h0m30-255h0m-189 162h0m0-125h0m117 172h0m105-83h0m-54-17h0m-148-104h0m131 26h0m-10 149h0m-112-72h0m-35 63h0m59 141h0m146-180h0m-217-147h0m125 274h0m-97-89h0m128-234h0m69 240h0m-85 190h0m-4-111h0m31-32h0m-104-203h0m153 151h0m-101-157h0m-27 126h0m112-15h0m224 405h0m136-157h0m-116-133h0m-58 120h0m66 43h0m19-61h0m56 139h0m-167-86h0m78 37h0m29-135h0m-47 219h0m-6 18h0m83-53h0m-136-152h0m96-9h0m-118-7h0m207 90h0m-172 0h0m-24-78h0m66-135h0m-37 14h0m38 73h0m57 123h0m-27 24h0m-39-206h0m-18 67h0m-4 97h0m81-33h0m-58 139h0m96 29h0m-133-143h0m146 24h0m-125-91h0m157 93h0m-138 122h0m0-310h0m133 41h0m-140 231h0m44-40h0m16-24h0m-8 29h0m-36-172h0m115 118h0m-50 113h0m-16-11h0m24-21h0m8-192h0m-137 55h0m105 33h0m25-103h0m-617 279h0m39 29h0m-78 60h0m63-32h0m-40 92h0m11-96h0m21-37h0m-36 90h0m4 25h0m45-57h0m5-3h0m18 37h0m-49 92h0m59-229h0m-49 119h0m-46-101h0m110 166h0m-133-70h0m89-26h0m-52 21h0m20 12h0m-13 53h0m48-86h0m37-12h0m-33 160h0m-72-113h0m-1 73h0m78-43h0m-29-12h0m36-110h0m-74 80h0m-13-21h0m44 80h0m-32 28h0m84 25h0m-37-45h0m32-11h0m-82 21h0m78-120h0m-15-29h0m-41 96h0m63-78h0m-43 31h0m-8-40h0m-50 93h0m90 52h0m-11-131h0m-50 58h0m68 62h0m-97-45h0m105-116h0m-72 167h0m-5-188h0m11 22h0m73 179h0m-60-9h0m38-124h0m5 7h0m16 83h0m-34-131h0m13 11h0m-17 29h0m-17 87h0m3-137h0m-19 37h0m15-78h0m47 168h0m11-126h0m-24 44h0m-48 31h0m-34 58h0m53 44h0m-13-58h0m80 21h0m-1-130h0m-63 74h0m33 56h0m-25-20h0m58-93h0m-62-4h0"/>
<g filter="url(#rsp)"><ellipse cx="1850.4" cy="1352.0" rx="32.6" ry="35.9" fill="url(#rg1)"/><ellipse cx="1861.3" cy="1308.6" rx="19.2" ry="25.0" fill="url(#rg2)"/><ellipse cx="1836.2" cy="1226.7" rx="41.7" ry="27.6" fill="url(#rg5)"/><ellipse cx="1819.5" cy="1418.8" rx="12.0" ry="28.7" fill="url(#rg4)"/></g>
<path fill="none" stroke="#B9232A" stroke-linecap="square" transform="scale(0.25)" style="stroke-width:6.4px" d="M7259 5072h0m-122 244h0m101 37h0m-50-168h0m-117 115h0m147-116h0m-109-53h0m-40-59h0m168-23h0m-97 310h0m88-36h0m49 59h0m-40-111h0m-34-229h0m68 175h0m43 83h0m-184 141h0m67-195h0m-84-54h0m146 103h0m-177-89h0m133 176h0m-126-76h0m227-166h0m-36 148h0m-108 88h0m41-123h0m12 5h0m-89-70h0m146-85h0m-135 331h0m74-217h0m-91 140h0m154-19h0m-83 47h0m56-204h0m-160 266h0m92-22h0m-117-65h0m53-79h0m143-175h0m-11 101h0m-105 118h0m-21 41h0m70-15h0m-80 98h0m115-177h0m-34-46h0m76 86h0m-132 29h0m-87-215h0m154 274h0m28-112h0m-106-64h0m126-173h0m-169 371h0m74 47h0m2-211h0m103 49h0m61-11h0m-256-184h0m10 21h0m189-22h0m-194 183h0m144 50h0m-90-50h0m108-107h0m-122 39h0m-89-45h0m283 171h0m-104-9h0m-55-237h0m69 55h0m-117 259h0m161-348h0m-134 334h0m52 47h0m-39-307h0m-23 220h0m146-192h0m-112 92h0m121 92h0m-256-157h0m61 183h0m45-279h0m127 76h0m53 148h0m-137-229h0m67 1h0m-113-74h0m-110 104h0m62 196h0m15-201h0m37-49h0m26-48h0m-144 120h0m183-120h0m-10 215h0m-88-104h0m142-4h0m-79-11h0m-110-45h0m182 53h0m-195 127h0m59 116h0m226-184h0m-215 227h0m156-223h0m-10-125h0m-51 126h0m114-64h0m-145 294h0m106-89h0m-152-292h0m97 96h0m59 240h0m-35-123h0m-70 187h0m-91-392h0m115-27h0m-53 351h0m-75-266h0m119-78h0m-48 283h0m13-270h0m1 249h0m92-38h0m-97 88h0m80-75h0m-99 27h0m62 92h0m62-327h0m-144 225h0m33 144h0m-92-94h0m98-286h0m44 136h0m-42 94h0m-125-65h0m134 79h0m-69-34h0m106 115h0m62-184h0m-125-90h0m-27 187h0m114 139h0m-144-134h0m246-72h0m-173 171h0m-54-192h0m-18 94h0m102-122h0m65 61h0m-108 62h0m158-167h0m-19 181h0m-220 45h0m17 81h0m119 11h0m-47-20h0m-98-113h0m-23-100h0m175 50h0m47-45h0m-138 111h0m-52-274h0m24 260h0m64-45h0m49-4h0m-110 180h0m159-73h0m-73-91h0m24-114h0m71 230h0m-100-55h0m68-140h0m-24-77h0m-136 61h0m-1 243h0m150-245h0m-71-32h0m-4 145h0m-74-219h0m85-46h0m-54 266h0m173-56h0m-9-68h0m-9-89h0m-167 91h0m69-89h0m-22 45h0m88 71h0m-24-178h0m52 390h0m-177-320h0m81 277h0m13 21h0m-99-315h0m60 28h0m-50 307h0m159-193h0m-158 82h0m100-69h0m96-123h0m-189 296h0m-24-32h0m1-202h0m169 44h0m69-104h0m-65-22h0m-79-91h0m16-13h0m196-24h0m89 65h0m-252 36h0m191-93h0m-7-125h0m-34 237h0m-13 19h0m-48-11h0m-164-132h0m137 133h0m12-48h0m41-90h0m-128-61h0m229 6h0m-29 3h0m30 157h0m-107-80h0m-145 18h0m112 101h0m144-158h0m-170 84h0m58-62h0m34 59h0m-83-173h0m35-19h0m-21 165h0m69 101h0m-133-131h0m145 128h0m-4-231h0m-40 33h0m-51-37h0m7 14h0m-49 176h0m208-145h0m-74 88h0m83-41h0m-22 132h0m-60-110h0m-25-89h0m-131 122h0m246-24h0m-99-163h0m155 101h0m-281-20h0m144 98h0m-72 36h0m77 23h0m115-164h0m-238 73h0m86-115h0m-131 171h0m204-122h0m-129 60h0m142-18h0m-39-130h0m-186 144h0m110 130h0m-36-142h0m232 70h0m-89-19h0m-23 75h0m-34-260h0m-12 246h0m-187-154h0m193 64h0m127 1h0m-322 34h0m234-71h0m-160 85h0m-89-120h0m93-9h0m30-27h0m0 64h0m-68-28h0m244 153h0m-164-79h0m182-46h0m-315-32h0m206 0h0m60 129h0m-244-107h0m179-23h0m-121 184h0m101-155h0m-50-21h0m-150 39h0m361 72h0m-359-52h0m230-49h0m-63 170h0m28-62h0m-51 3h0m148-98h0m-219 72h0m235 47h0m-23 38h0m-148-172h0m146-63h0m-142 102h0m176-71h0m-83 32h0m-89-58h0m-102 62h0m247 164h0m-77-122h0m-49 73h0m53-209h0m-155 220h0m283-148h0m-201 213h0m73-129h0m18-94h0m-111 165h0m173-33h0m-135-31h0m131 86h0m-123-110h0m121-88h0m-3 122h0m-92-14h0m-39 25h0m78 74h0m-21-113h0m31 61h0m31 29h0m-253-83h0m215-156h0m0 31h0m-42-23h0m169 182h0m-40-37h0m26 24h0m-176-21h0m-57 89h0m240-40h0m-66-55h0m-119 15h0m98-79h0m-15-42h0m-99 219h0m53-128h0m96-48h0m-72-63h0m79 168h0m-88-22h0m98-29h0m-132 84h0m184-133h0m-205-43h0m-69 65h0m131 119h0m-66 50h0m-130-125h0m288-109h0m-66 159h0m-22-96h0m-11 146h0m-82 496h0m-30-15h0m-4 134h0m0-50h0m13-19h0m13 134h0m25-38h0m-28-111h0m-6 62h0m29 42h0m-81-66h0m19-53h0m31 136h0m39-78h0m-84 63h0m34-114h0m17 179h0m32-141h0m-52 57h0m2 6h0m19-87h0m18 31h0m-13-66h0m-17 54h0m22 77h0m8-130h0m-40-12h0m51 140h0m-62-128h0m32 34h0m-41-21h0m29 35h0m-7-85h0m-7 86h0m26 19h0m-7 143h0m-29-163h0m36-61h0m4 145h0m-1-155h0m15 155h0m-37-117h0m34 107h0m9-79h0m-27 165h0m-22-182h0m10 119h0m-21-11h0m14 76h0m12-215h0m35 68h0m3-10h0m-66-47h0m32-32h0m12 59h0m-34 106h0m55-110h0m-67 90h0m58 67h0m-52-213h0m-1 45h0m22-55h0m16 61h0m-61 59h0m4 1h0m-1-14h0m44 21h0m24 45h0m-56 49h0m48-97h0m-1-82h0m-1 15h0m-15 59h0m-27 24h0m26 58h0m-28-28h0m-11-63h0m61-98h0m-33 57h0m-16 17h0m30 118h0m2 21h0m27-58h0m-35-34h0m-4 125h0m-3-147h0m-24-36h0m54 116h0m-12 33h0m2-155h0m2 97h0m-21-61h0m-32 3h0m45-89h0m27 115h0m-29 89h0m8-55h0m32-78h0m-7 108h0m-10-39h0m665-292h0m-263 40h0m21 87h0m73-40h0m99 41h0m-202-186h0m210 203h0m39-196h0m-76 108h0m29 9h0m-69-133h0m-32 87h0m9-68h0m51-91h0m14 297h0m-107-37h0m-10-149h0m-41 120h0m202-219h0m-214 59h0m218 223h0m41-97h0m-110-168h0m12-67h0m25 318h0m59-130h0m-9 56h0m-19-39h0m-37-101h0m44 54h0m-40 196h0m4-46h0m70-190h0m-197 35h0m-15 31h0m46 100h0m42-64h0m-9-58h0m-80-30h0m14-68h0m-275 360h0m2-28h0m2-4h0m73-8h0m-48 66h0m-11-71h0m46 48h0m-45-46h0m37 41h0m-23 23h0m30-22h0m-14 1h0m3 1h0m-36 26h0m9-69h0m0 40h0m44 3h0m24-23h0m-47-33h0m4 96h0m-8-26h0m-45-37h0m56-5h0m15 40h0m-10-2h0m-38-29h0m68 8h0m-50 39h0m0 1h0m-1-8h0m29-98h0m-93-61h0m-101-66h0m88 90h0m-168-201h0m18 195h0m127-224h0m15 261h0m-193-62h0m353-87h0m-234 66h0m136-144h0m-22-111h0m26 166h0m-40 62h0m-133 124h0m38-234h0m217 169h0m-168-114h0m-79-39h0m67 107h0m178-68h0m-236-54h0m-55 175h0m129-305h0m6 289h0m-108-34h0m167-175h0m-177 212h0m-12-148h0m328 56h0m-37 113h0m-160-21h0m-220-143h0m99 137h0m51-61h0m14 152h0m163-224h0m-84 26h0m-33-20h0m-127 90h0m115-37h0m175 90h0m-117-76h0m39 151h0m-162-160h0m6-129h0m-142 38h0m167-74h0m220 137h0m-373 56h0m398-98h0m-290 139h0m213-90h0m-87-143h0m91 9h0m-311 56h0m1 75h0m53 6h0m144-61h0m221 25h0m-149-92h0m-219 159h0m35-15h0m173-203h0m-283 178h0m160 180h0m245-207h0m5-12h0m-250-89h0m133 155h0m-30-101h0m-83 1h0m44-122h0m-42 169h0m21-111h0m73 80h0m-103 246h0m159-351h0m-306 142h0m364-46h0m-95 108h0m-1-40h0m65 20h0m-304-146h0m83 169h0m266-148h0m-152 100h0m-192-82h0m57 67h0m250-51h0m-166-19h0m33-2h0m-133 135h0m268 91h0m-262 11h0m206-213h0m73 72h0m-150 181h0m82-40h0m18-129h0m-49 158h0m-225-270h0m267 150h0m-105-197h0m54 326h0m-70-102h0m-32-129h0m58-121h0m-142 264h0m61-92h0m185 53h0m-21-54h0m-224 116h0m26-127h0m110-170h0m-114 36h0m97 325h0m-80-226h0m10-103h0m-71 88h0m166-112h0m-72 142h0m77 225h0m94-86h0m-278-222h0m313 85h0m-191 100h0m-42 41h0m241-147h0m-254-121h0m204 161h0m-167-20h0m173 153h0m-159-207h0m199 190h0m-288-105h0m93-180h0m111 159h0m-56-133h0m63 144h0m69 96h0m-181-201h0m-42 261h0m-33-88h0m268-127h0m-340 13h0m320 69h0m-97-189h0m55 86h0m-213 86h0m140 40h0m2 22h0m-169-29h0m158-224h0m-202 135h0m56 63h0m-58-26h0m388-47h0m-32 116h0m-16 20h0m-40-221h0m-3 225h0m-47 64h0m-114-320h0m-63 288h0m171 65h0m-21-199h0m-220-53h0m187 102h0m192-34h0m-52 7h0m-129-53h0m-57-83h0m-84 216h0m-4 60h0m59-258h0m291 108h0m-94 50h0m-273-25h0m223 32h0m-270-93h0m153-124h0m30 144h0m37 131h0m-32 11h0m-105-56h0m327-57h0m-40-54h0m-199 175h0m176-214h0m-218-77h0m252 138h0m-113-14h0m-25 48h0m36 20h0m-62-188h0m-44 5h0m-106 290h0m194-36h0m-234-21h0m178-235h0m-108 84h0m-83-35h0m-9 167h0m21-72h0m99-40h0m90 129h0m-208-118h0m158-52h0m-17 154h0m-41-173h0m70 201h0m170-138h0m-21 38h0m-90 171h0m38-208h0m35-74h0m72 7h0m-122 231h0m-174-86h0m-93-18h0m99-31h0m29-65h0m-86 14h0m158-129h0m149 130h0m-157 162h0m56-268h0m12-6h0m-262 101h0m101-58h0m200-5h0m-72-54h0m-186 298h0m353-163h0m-65-97h0m-217 91h0m292 82h0m-190-190h0m-179 93h0m133-65h0m-27 63h0m-121 46h0m74-9h0m240 159h0m26 0h0m-74 44h0m-221-10h0m150-71h0"/>
<text x="1380.0" y="120.4" font-size="46" font-weight="bold" fill="#231F20">c</text>
<text x="1419.5" y="148.0" font-size="30.8" textLength="512.0" lengthAdjust="spacingAndGlyphs">chr17:8156823:C:A (PER1, enhancer)</text>
<g fill="#808285" stroke="none"><rect x="1361.0" y="149.4" width="32.5" height="3.6"/><path d="M1405.5 151.2 Q1394.5 143.7 1384.0 133.7 L1390.0 151.2 L1384.0 168.7 Q1394.5 158.7 1405.5 151.2Z"/></g>
<text x="1381.3" y="472.8" font-size="46" font-weight="bold" fill="#231F20">d</text>
<text x="1418.0" y="495.7" font-size="30.8" textLength="572.0" lengthAdjust="spacingAndGlyphs">chr8:38030499:C:G (EIF4EBP1, promoter)</text>
<g fill="#808285" stroke="none"><rect x="1346.6" y="603.4" width="61.9" height="3.6"/><path d="M1420.5 605.2 Q1409.5 597.7 1399.0 587.7 L1405.0 605.2 L1399.0 622.7 Q1409.5 612.7 1420.5 605.2Z"/></g>
<text x="1390.0" y="809.4" font-size="46" font-weight="bold" fill="#231F20">e</text>
<text x="1418.0" y="835.7" font-size="30.8" textLength="554.5" lengthAdjust="spacingAndGlyphs">chr16:74666845:G:C (RFWD3, promoter)</text>
<g fill="#808285" stroke="none"><rect x="1346.0" y="1031.1" width="60.9" height="3.6"/><path d="M1418.9 1032.9 Q1407.9 1025.4 1397.4 1015.4 L1403.4 1032.9 L1397.4 1050.4 Q1407.9 1040.4 1418.9 1032.9Z"/></g>
<text x="1391.0" y="1155.3" font-size="46" font-weight="bold" fill="#231F20">f</text>
<text x="1418.0" y="1174.1" font-size="30.8" textLength="568.5" lengthAdjust="spacingAndGlyphs">chr20:62832771:G:A (DPH3P1, enhancer)</text>
<g fill="#808285" stroke="none"><rect x="1343.3" y="1258.7" width="61.9" height="3.6"/><path d="M1417.2 1260.5 Q1406.2 1253.0 1395.7 1243.0 L1401.7 1260.5 L1395.7 1278.0 Q1406.2 1268.0 1417.2 1260.5Z"/></g>
<text x="1464.0" y="1491.2" font-size="30" fill="#231F20" textLength="235.0" lengthAdjust="spacingAndGlyphs">raw mutated cells</text>
<text x="1829.0" y="1484.6" font-size="30" fill="#231F20" textLength="106.7" lengthAdjust="spacingAndGlyphs">imputed</text>
<circle cx="1555.9" cy="1532.3" r="5.9" fill="#E31E26"/>
<text x="1581.0" y="1540.5" font-size="30" fill="#231F20" textLength="162.3" lengthAdjust="spacingAndGlyphs">mutated cell</text>
</svg></body></html>
